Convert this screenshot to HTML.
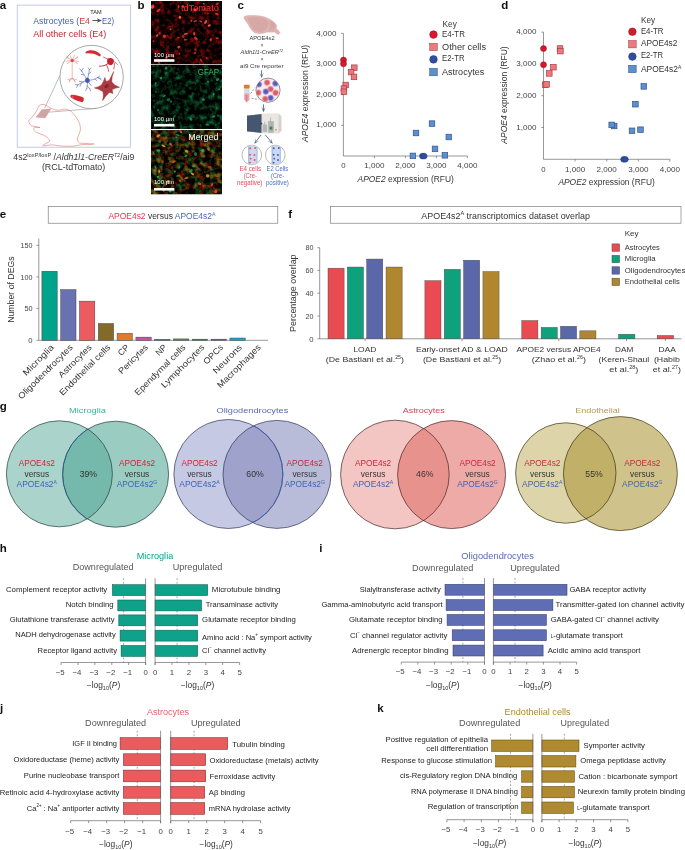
<!DOCTYPE html>
<html lang="en"><head><meta charset="utf-8"><title>Figure</title>
<style>
html,body{margin:0;padding:0;background:#fff;}
body{width:685px;height:850px;overflow:hidden;}
svg{display:block;font-family:"Liberation Sans",sans-serif;will-change:transform;transform:translateZ(0);-webkit-font-smoothing:antialiased;}
</style></head><body>
<svg width="685" height="850" viewBox="0 0 685 850">
<rect width="685" height="850" fill="#ffffff"/>
<defs>
<filter id="b1" x="-5%" y="-5%" width="110%" height="110%"><feGaussianBlur stdDeviation="0.9"/></filter>
<filter id="b2" x="-5%" y="-5%" width="110%" height="110%"><feGaussianBlur stdDeviation="1.6"/></filter>
<filter id="b05"><feGaussianBlur stdDeviation="0.5"/></filter>
<clipPath id="cpb1"><rect x="151" y="1" width="71" height="63.3"/></clipPath>
<clipPath id="cpb2"><rect x="151" y="65" width="71" height="64"/></clipPath>
<clipPath id="cpb3"><rect x="151" y="130.2" width="71" height="64"/></clipPath>
<clipPath id="cpc1"><circle cx="268.0" cy="90.2" r="11.8"/></clipPath>
<clipPath id="cpc2"><circle cx="251.8" cy="155" r="9.6"/></clipPath>
<clipPath id="cpc3"><circle cx="275.3" cy="155" r="9.6"/></clipPath>
</defs>
<text x="-0.30" y="8.80" font-size="11.5" fill="#111" font-weight="bold">a</text>
<text x="137.60" y="8.80" font-size="11.5" fill="#111" font-weight="bold">b</text>
<text x="237.60" y="8.80" font-size="11.5" fill="#111" font-weight="bold">c</text>
<text x="501.20" y="8.80" font-size="11.5" fill="#111" font-weight="bold">d</text>
<text x="-0.30" y="217.90" font-size="11.5" fill="#111" font-weight="bold">e</text>
<text x="288.20" y="217.90" font-size="11.5" fill="#111" font-weight="bold">f</text>
<text x="-0.30" y="410.00" font-size="11.5" fill="#111" font-weight="bold">g</text>
<text x="-0.30" y="552.30" font-size="11.5" fill="#111" font-weight="bold">h</text>
<text x="319.30" y="552.30" font-size="11.5" fill="#111" font-weight="bold">i</text>
<text x="0.00" y="711.60" font-size="11.5" fill="#111" font-weight="bold">j</text>
<text x="377.20" y="712.40" font-size="11.5" fill="#111" font-weight="bold">k</text>
<rect x="17.20" y="5.10" width="113.20" height="142.10" fill="none" stroke="#a9b3e3" stroke-width="0.7" />
<text x="90.20" y="13.90" font-size="5.6" fill="#222" textLength="11.40" lengthAdjust="spacingAndGlyphs">TAM</text>
<text x="33.30" y="23.60" font-size="9.0" fill="#2b2b2b" textLength="56.60" lengthAdjust="spacingAndGlyphs"><tspan fill="#3f62b5">Astrocytes (</tspan><tspan fill="#d23b33">E4</tspan></text>
<text x="102.00" y="23.60" font-size="9.0" fill="#3f62b5" textLength="12.10" lengthAdjust="spacingAndGlyphs">E2)</text>
<line x1="92.40" y1="20.50" x2="99.40" y2="20.50" stroke="#505050" stroke-width="0.95" />
<path d="M102.0 20.5 L96.8 18.2 L98.2 20.5 L96.8 22.8 Z" fill="#505050"/>
<text x="33.30" y="36.90" font-size="9.0" fill="#c0272d" textLength="73.00" lengthAdjust="spacingAndGlyphs">All other cells (E4)</text>
<path d="M41.3 104.5 C44 104 46.5 105.5 48.5 106.8 C50.5 108 52.5 109.3 54.4 109.5 C56.5 110.2 58 110.3 59.7 110.1 C62.5 109.2 65 108.8 67.6 109.5 C70.5 110.5 72.5 112.5 74.1 114.7 C76.5 117.5 78.2 120.2 79.4 123.2 C80.3 125.8 80.6 128 80.3 130.5 C79.8 133.5 78 136 77.4 138.4 C77.2 140.5 78 142.2 79.4 143 C82 143.6 84 143.3 86 143.4 C88.5 143.5 91 144.2 93.8 143.9 C90.5 144.7 88 144.4 85.6 144.4 C82.5 144.5 79.5 144.9 76.8 145.6 C73 146.4 69 146.3 64.9 146.2 C61 146.3 57 145.3 53.1 144.9 C49.5 144.8 46 146 42.6 145.6 C44.5 143.8 47.5 143.2 49.8 141 C49 139 47.5 137.6 45.9 136.4 C44 135.2 42 134.6 40 133.8 C37.8 133 35.3 132.2 34.1 130.5 C33.4 129.2 33.6 127.9 34.7 127.2 C36.5 127 38.3 127.9 40 127.6 C38 126.6 36 127 34 126.3 C32.5 126.2 31.5 125.8 30.8 125.2 C29.4 123.8 28.6 122.2 28.8 120.6 C29.4 119.2 30.8 118.3 32.1 117.3 C33.8 115.3 35.3 113 36.7 110.8 C37.6 108.5 38.4 106.3 40 104.9 C40.4 104.6 40.9 104.5 41.3 104.5 Z" fill="none" stroke="#e2766f" stroke-width="0.6" stroke-linejoin="round"/>
<path d="M36 117.3 L41.9 109.5 L51.1 108.8 L45.2 118 Z" fill="#cfa5a3" stroke="#c79a98" stroke-width="0.3"/>
<line x1="59.90" y1="75.50" x2="44.60" y2="108.10" stroke="#8d9494" stroke-width="0.6" />
<line x1="96.50" y1="108.40" x2="49.20" y2="112.10" stroke="#8d9494" stroke-width="0.6" />
<circle cx="91.60" cy="77.00" r="31.70" fill="#ffffff" stroke="#8d9494" stroke-width="0.8" />
<path d="M85.6 52 C89 49.2 96 49.5 100.6 54.5 C101 55.8 100.4 56.6 99.2 56.2 C95 53.6 90 53.2 86.4 53.4 C85.4 53.2 85.2 52.5 85.6 52 Z" fill="#d52b33"/>
<g stroke="#e0605c" stroke-width="0.45" fill="none" stroke-linecap="round"><path d="M72.2 61.5 L72.2 78.5 M72.2 78.5 L69 81 M72.2 78.5 L75.5 81.2 M72.2 78.5 L67.6 79.6 M72.2 78.5 L76.6 79.8 M70.3 80 L69.2 82 M74.2 80.2 L75 82.2"/><path d="M72.2 60.4 L67 57.5 M72.2 60.4 L77.6 57.6 M72.2 60.4 L66 61.2 M72.2 60.4 L78.6 61.4 M72.2 60.4 L70 55.5 M72.2 60.4 L74.5 55.4 M72.2 60.4 L67.2 63.6 M72.2 60.4 L77.2 63.4 M68.5 58.3 L66.6 56 M76 58.4 L78 56.2"/></g>
<circle cx="72.20" cy="60.40" r="1.50" fill="#d8413f" stroke="none" stroke-width="0.5" />
<path d="M107.8 58.6 C109.5 57.6 112.5 58 113.6 59.6 C114.4 61.5 113.4 64 111.6 65 C109.8 65.4 107.8 64.6 107.4 63 C107 61.4 107 59.6 107.8 58.6 Z" fill="#c8202c"/>
<g stroke="#c8202c" fill="none" stroke-linecap="round"><path d="M108 63.6 C105.5 65.6 102.5 66.2 99.4 66.2" stroke-width="0.9"/><path d="M106.5 65 C107.6 67 108.4 69 108.6 71.2" stroke-width="0.8"/><path d="M107.8 59.2 C106.4 58.4 105 57.8 103.6 57.2" stroke-width="0.7"/><path d="M113.4 61.6 C115 62.2 116.4 63 117.4 64.4 M114.4 63.5 C114.6 65.5 114.2 67.4 113.8 69" stroke-width="0.7"/></g>
<g stroke="#4c60b6" fill="none" stroke-linecap="round" stroke-width="0.6"><path d="M87.4 80.3 C85.5 77 83.6 74 81.6 71 M81.6 71 L79.8 68.8 M81.6 71 L83 68.4 M84 75 L81.2 74.4"/><path d="M87.4 80.3 C88.4 76.5 88.8 73 89.4 69.6 M89.4 69.6 L88.2 67.8 M89.4 69.6 L91.2 68.2 M88.6 74 L91 72"/><path d="M87.4 80.3 C91.5 80.4 95 79.4 97.6 77.6 M97.6 77.6 L100.8 78.4 M97.6 77.6 L99.8 75.8 M95 79 L96.8 80.6 M98.6 78 L101.4 80"/><path d="M87.4 80.3 C83.6 81.6 80.4 83.2 77.8 85 M77.8 85 L75.4 84.4 M77.8 85 L76.6 87.4 M81.6 82.8 L80 86.2 M83.6 82 L79.4 81.4"/><path d="M87.4 80.3 C87.6 83.6 87.4 86 86.8 88.6 M86.8 88.6 L85.6 90.6 M87.2 86 L89.6 88.4 M89.6 88.4 L90.6 91 M87.4 80.3 L91 85.6"/></g>
<path d="M85.6 78.4 L87.6 77.6 L89.6 79.2 L89.8 81.6 L88 83 L85.8 82.4 L84.8 80.4 Z" fill="#4357b2"/>
<path d="M113.7 71.5 Q111.4 77.5 111.8 82 Q114.5 85.9 119.5 87.3 Q114.6 88 112.2 89.6 Q112.6 91.6 112.9 93.6 Q110.6 92.6 109.2 92.6 Q105.6 96 102.6 100.7 Q103.8 95.5 103 91.8 Q99.5 88.8 94.4 87.9 Q99 86.9 101.4 84.9 Q103.7 81.5 104.9 77.4 Q105.4 80 106.4 81.4 Q108.4 80.8 109.3 80.2 Q111.4 76 113.7 71.5 Z" fill="#ab3b43" stroke="#ab3b43" stroke-width="0.5" stroke-linejoin="round"/>
<ellipse cx="106.6" cy="86.2" rx="2.4" ry="1.5" transform="rotate(-30 106.6 86.2)" fill="#8a1f2a"/>
<path d="M71 94.9 C75 94.6 80 96.2 83.6 97.8 C84.2 99.4 83.6 101.4 82.4 102.2 C78.6 101.6 74.4 100 71 97.6 C70.2 96.6 70.2 95.6 71 94.9 Z" fill="#d22a33"/>
<path d="M73.4 95.4 C72.4 96.4 72.4 97.6 73.2 98.6" stroke="#f0a8a6" stroke-width="0.5" fill="none"/>
<text x="13.30" y="159.50" font-size="8.8" fill="#333" textLength="121.00" lengthAdjust="spacingAndGlyphs">4s2<tspan font-size="5.8" dy="-3.0">loxP/loxP</tspan><tspan dy="3.0"> /</tspan><tspan font-style="italic">Aldh1l1-CreER</tspan><tspan font-style="italic" font-size="5.4" dy="-3.0">T2</tspan><tspan dy="3.0">/ai9</tspan></text>
<text x="41.90" y="170.20" font-size="8.8" fill="#333" textLength="63.40" lengthAdjust="spacingAndGlyphs">(RCL-tdTomato)</text>
<filter id="nR" x="0" y="0" width="1" height="1" color-interpolation-filters="sRGB">
<feTurbulence type="fractalNoise" baseFrequency="0.2" numOctaves="3" seed="4"/>
<feColorMatrix type="matrix" values="1.25 0 0 0 -0.52  0.12 0 0 0 -0.05  0.09 0 0 0 -0.037  0 0 0 0 1"/></filter>
<filter id="nG" x="0" y="0" width="1" height="1" color-interpolation-filters="sRGB">
<feTurbulence type="fractalNoise" baseFrequency="0.2" numOctaves="3" seed="9"/>
<feColorMatrix type="matrix" values="0 0.08 0 0 -0.03  0 0.95 0 0 -0.4  0 0.5 0 0 -0.215  0 0 0 0 1"/></filter>
<filter id="nM" x="0" y="0" width="1" height="1" color-interpolation-filters="sRGB">
<feTurbulence type="fractalNoise" baseFrequency="0.19" numOctaves="3" seed="15"/>
<feColorMatrix type="matrix" values="1.25 0 0 0 -0.5  0.45 0.75 0 0 -0.5  0 0.28 0 0 -0.11  0 0 0 0 1"/></filter>
<g clip-path="url(#cpb1)">
<rect x="151.00" y="1.00" width="71.00" height="63.30" fill="#000" stroke="none" stroke-width="0.5" />
<rect x="151" y="1" width="71" height="63.3" filter="url(#nR)"/>
<g filter="url(#b05)">
<ellipse cx="183.2" cy="36.3" rx="1.5" ry="1.5" fill="#f83a2a" opacity="0.64" transform="rotate(131 183.2 36.3)"/>
<ellipse cx="184.8" cy="39.6" rx="1.0" ry="1.0" fill="#ff4232" opacity="0.64" transform="rotate(177 184.8 39.6)"/>
<ellipse cx="195.8" cy="38.5" rx="2.3" ry="1.3" fill="#f83a2a" opacity="0.80" transform="rotate(40 195.8 38.5)"/>
<ellipse cx="195.0" cy="53.0" rx="1.0" ry="0.9" fill="#ff4232" opacity="0.70" transform="rotate(7 195.0 53.0)"/>
<ellipse cx="205.7" cy="22.0" rx="2.1" ry="1.2" fill="#ff5a44" opacity="0.86" transform="rotate(127 205.7 22.0)"/>
<ellipse cx="152.3" cy="7.2" rx="1.3" ry="1.6" fill="#ff5a44" opacity="1.00" transform="rotate(21 152.3 7.2)"/>
<ellipse cx="200.8" cy="21.3" rx="1.6" ry="0.7" fill="#ff4232" opacity="0.83" transform="rotate(27 200.8 21.3)"/>
<ellipse cx="179.6" cy="53.9" rx="1.0" ry="0.7" fill="#f83a2a" opacity="0.83" transform="rotate(54 179.6 53.9)"/>
<ellipse cx="166.5" cy="57.8" rx="1.4" ry="1.3" fill="#f83a2a" opacity="0.73" transform="rotate(144 166.5 57.8)"/>
<ellipse cx="195.4" cy="49.7" rx="1.4" ry="1.0" fill="#f83a2a" opacity="0.58" transform="rotate(104 195.4 49.7)"/>
<ellipse cx="204.3" cy="9.2" rx="1.9" ry="0.7" fill="#ff4232" opacity="0.79" transform="rotate(124 204.3 9.2)"/>
<ellipse cx="164.3" cy="36.3" rx="1.6" ry="1.6" fill="#f83a2a" opacity="0.86" transform="rotate(107 164.3 36.3)"/>
<ellipse cx="196.4" cy="9.1" rx="2.3" ry="0.7" fill="#f83a2a" opacity="0.90" transform="rotate(151 196.4 9.1)"/>
<ellipse cx="173.0" cy="56.2" rx="1.2" ry="1.6" fill="#ff4232" opacity="0.84" transform="rotate(147 173.0 56.2)"/>
<ellipse cx="158.9" cy="62.6" rx="1.5" ry="0.7" fill="#ff4232" opacity="0.84" transform="rotate(75 158.9 62.6)"/>
<ellipse cx="178.6" cy="6.6" rx="1.7" ry="0.9" fill="#ff4232" opacity="0.84" transform="rotate(95 178.6 6.6)"/>
<ellipse cx="194.9" cy="9.8" rx="1.6" ry="1.2" fill="#ff5a44" opacity="0.95" transform="rotate(46 194.9 9.8)"/>
<ellipse cx="195.3" cy="21.1" rx="2.0" ry="0.9" fill="#ff4232" opacity="0.68" transform="rotate(161 195.3 21.1)"/>
<ellipse cx="216.9" cy="14.1" rx="2.1" ry="1.2" fill="#f83a2a" opacity="0.73" transform="rotate(26 216.9 14.1)"/>
<ellipse cx="159.5" cy="33.4" rx="1.2" ry="1.3" fill="#f83a2a" opacity="0.67" transform="rotate(152 159.5 33.4)"/>
<ellipse cx="185.9" cy="33.9" rx="2.3" ry="0.8" fill="#ff5a44" opacity="0.79" transform="rotate(167 185.9 33.9)"/>
<ellipse cx="210.8" cy="39.7" rx="1.2" ry="1.5" fill="#f83a2a" opacity="0.85" transform="rotate(17 210.8 39.7)"/>
<ellipse cx="170.6" cy="29.3" rx="1.0" ry="1.0" fill="#ff4232" opacity="0.81" transform="rotate(33 170.6 29.3)"/>
<ellipse cx="158.4" cy="10.5" rx="2.3" ry="1.3" fill="#f83a2a" opacity="0.83" transform="rotate(149 158.4 10.5)"/>
<ellipse cx="217.3" cy="38.2" rx="1.6" ry="1.0" fill="#ff4232" opacity="0.72" transform="rotate(8 217.3 38.2)"/>
<ellipse cx="153.5" cy="41.0" rx="1.0" ry="1.0" fill="#f83a2a" opacity="0.62" transform="rotate(18 153.5 41.0)"/>
<ellipse cx="157.2" cy="35.5" rx="1.0" ry="1.5" fill="#ff5a44" opacity="0.89" transform="rotate(33 157.2 35.5)"/>
<ellipse cx="206.7" cy="58.1" rx="1.0" ry="1.1" fill="#f83a2a" opacity="0.60" transform="rotate(106 206.7 58.1)"/>
<ellipse cx="217.2" cy="3.9" rx="1.7" ry="1.3" fill="#f83a2a" opacity="0.72" transform="rotate(149 217.2 3.9)"/>
<ellipse cx="152.9" cy="6.4" rx="1.8" ry="1.6" fill="#ff4232" opacity="0.95" transform="rotate(84 152.9 6.4)"/>
<ellipse cx="178.8" cy="47.1" rx="1.5" ry="1.1" fill="#ff5a44" opacity="0.82" transform="rotate(132 178.8 47.1)"/>
<ellipse cx="203.8" cy="3.8" rx="1.0" ry="0.7" fill="#ff5a44" opacity="0.98" transform="rotate(28 203.8 3.8)"/>
<ellipse cx="186.3" cy="39.7" rx="1.3" ry="0.7" fill="#f83a2a" opacity="0.68" transform="rotate(173 186.3 39.7)"/>
<ellipse cx="194.2" cy="33.8" rx="1.8" ry="1.1" fill="#f83a2a" opacity="0.91" transform="rotate(83 194.2 33.8)"/>
<ellipse cx="179.9" cy="17.4" rx="1.5" ry="1.4" fill="#ff5a44" opacity="0.97" transform="rotate(54 179.9 17.4)"/>
<ellipse cx="178.5" cy="37.7" rx="1.2" ry="0.8" fill="#f83a2a" opacity="0.70" transform="rotate(10 178.5 37.7)"/>
<ellipse cx="201.1" cy="60.2" rx="2.1" ry="0.8" fill="#f83a2a" opacity="0.75" transform="rotate(54 201.1 60.2)"/>
<ellipse cx="209.3" cy="25.5" rx="1.6" ry="1.0" fill="#ff5a44" opacity="0.94" transform="rotate(159 209.3 25.5)"/>
<ellipse cx="183.2" cy="6.6" rx="1.3" ry="1.2" fill="#ff4232" opacity="0.87" transform="rotate(71 183.2 6.6)"/>
<ellipse cx="191.4" cy="20.9" rx="0.9" ry="0.8" fill="#ff5a44" opacity="0.78" transform="rotate(6 191.4 20.9)"/>
</g></g>
<g clip-path="url(#cpb2)">
<rect x="151.00" y="65.00" width="71.00" height="64.00" fill="#000" stroke="none" stroke-width="0.5" />
<rect x="151" y="65" width="71" height="64" filter="url(#nG)"/>
<g filter="url(#b05)">
<ellipse cx="215.8" cy="124.8" rx="0.9" ry="1.0" fill="#2adc80" opacity="0.53" transform="rotate(91 215.8 124.8)"/>
<ellipse cx="161.0" cy="77.9" rx="0.9" ry="1.3" fill="#20c46c" opacity="0.67" transform="rotate(27 161.0 77.9)"/>
<ellipse cx="157.9" cy="110.0" rx="0.9" ry="1.3" fill="#20c46c" opacity="0.54" transform="rotate(14 157.9 110.0)"/>
<ellipse cx="166.2" cy="68.2" rx="1.8" ry="1.3" fill="#20c46c" opacity="0.69" transform="rotate(92 166.2 68.2)"/>
<ellipse cx="191.0" cy="119.3" rx="1.3" ry="1.6" fill="#38ec90" opacity="0.50" transform="rotate(121 191.0 119.3)"/>
<ellipse cx="164.3" cy="96.0" rx="1.8" ry="0.8" fill="#20c46c" opacity="0.64" transform="rotate(136 164.3 96.0)"/>
<ellipse cx="174.3" cy="116.6" rx="1.7" ry="0.8" fill="#2adc80" opacity="0.54" transform="rotate(145 174.3 116.6)"/>
<ellipse cx="171.0" cy="101.5" rx="1.4" ry="1.0" fill="#38ec90" opacity="0.43" transform="rotate(78 171.0 101.5)"/>
<ellipse cx="213.7" cy="94.2" rx="1.3" ry="0.8" fill="#2adc80" opacity="0.64" transform="rotate(126 213.7 94.2)"/>
<ellipse cx="168.4" cy="99.8" rx="1.7" ry="1.6" fill="#38ec90" opacity="0.40" transform="rotate(8 168.4 99.8)"/>
<ellipse cx="155.9" cy="91.8" rx="1.1" ry="0.9" fill="#2adc80" opacity="0.42" transform="rotate(56 155.9 91.8)"/>
<ellipse cx="207.5" cy="124.8" rx="2.2" ry="1.1" fill="#38ec90" opacity="0.38" transform="rotate(4 207.5 124.8)"/>
<ellipse cx="219.2" cy="89.4" rx="1.0" ry="0.9" fill="#2adc80" opacity="0.57" transform="rotate(117 219.2 89.4)"/>
<ellipse cx="217.6" cy="79.4" rx="1.7" ry="1.3" fill="#2adc80" opacity="0.61" transform="rotate(142 217.6 79.4)"/>
<ellipse cx="208.1" cy="81.7" rx="1.1" ry="0.7" fill="#20c46c" opacity="0.63" transform="rotate(168 208.1 81.7)"/>
<ellipse cx="213.6" cy="116.5" rx="1.9" ry="1.1" fill="#38ec90" opacity="0.53" transform="rotate(163 213.6 116.5)"/>
<ellipse cx="203.5" cy="99.8" rx="1.5" ry="1.4" fill="#20c46c" opacity="0.58" transform="rotate(140 203.5 99.8)"/>
<ellipse cx="155.6" cy="83.7" rx="1.8" ry="1.0" fill="#2adc80" opacity="0.58" transform="rotate(110 155.6 83.7)"/>
<ellipse cx="169.1" cy="125.0" rx="1.4" ry="1.3" fill="#2adc80" opacity="0.45" transform="rotate(143 169.1 125.0)"/>
<ellipse cx="218.1" cy="115.6" rx="1.3" ry="1.0" fill="#38ec90" opacity="0.37" transform="rotate(36 218.1 115.6)"/>
</g></g>
<g clip-path="url(#cpb3)">
<rect x="151.00" y="130.20" width="71.00" height="64.00" fill="#000" stroke="none" stroke-width="0.5" />
<rect x="151" y="130.2" width="71" height="64" filter="url(#nM)"/>
<g filter="url(#b05)">
<ellipse cx="199.1" cy="136.9" rx="1.8" ry="1.4" fill="#20c468" opacity="0.64" transform="rotate(9 199.1 136.9)"/>
<ellipse cx="195.5" cy="154.1" rx="2.0" ry="1.6" fill="#20c468" opacity="0.59" transform="rotate(72 195.5 154.1)"/>
<ellipse cx="215.8" cy="191.5" rx="1.5" ry="1.6" fill="#ff5028" opacity="0.89" transform="rotate(12 215.8 191.5)"/>
<ellipse cx="158.3" cy="135.9" rx="2.2" ry="1.3" fill="#ffb030" opacity="0.70" transform="rotate(150 158.3 135.9)"/>
<ellipse cx="190.8" cy="170.8" rx="2.3" ry="1.4" fill="#20c468" opacity="0.64" transform="rotate(129 190.8 170.8)"/>
<ellipse cx="180.8" cy="131.7" rx="1.6" ry="1.0" fill="#ff8038" opacity="0.79" transform="rotate(57 180.8 131.7)"/>
<ellipse cx="153.6" cy="153.0" rx="2.0" ry="0.7" fill="#28d070" opacity="0.48" transform="rotate(55 153.6 153.0)"/>
<ellipse cx="202.8" cy="150.5" rx="1.6" ry="1.5" fill="#28d070" opacity="0.68" transform="rotate(72 202.8 150.5)"/>
<ellipse cx="170.8" cy="143.8" rx="1.2" ry="1.3" fill="#28d070" opacity="0.50" transform="rotate(114 170.8 143.8)"/>
<ellipse cx="159.2" cy="171.4" rx="1.8" ry="0.8" fill="#ffb030" opacity="0.77" transform="rotate(87 159.2 171.4)"/>
<ellipse cx="176.2" cy="137.3" rx="1.0" ry="0.8" fill="#28d070" opacity="0.64" transform="rotate(62 176.2 137.3)"/>
<ellipse cx="208.4" cy="149.1" rx="1.7" ry="1.2" fill="#ff6a30" opacity="0.68" transform="rotate(54 208.4 149.1)"/>
<ellipse cx="159.7" cy="141.5" rx="1.6" ry="1.5" fill="#20c468" opacity="0.45" transform="rotate(70 159.7 141.5)"/>
<ellipse cx="156.7" cy="183.1" rx="2.0" ry="1.1" fill="#28d070" opacity="0.58" transform="rotate(49 156.7 183.1)"/>
<ellipse cx="158.3" cy="150.5" rx="2.1" ry="1.3" fill="#28d070" opacity="0.77" transform="rotate(179 158.3 150.5)"/>
<ellipse cx="186.3" cy="178.0" rx="2.2" ry="0.7" fill="#ffb030" opacity="0.85" transform="rotate(172 186.3 178.0)"/>
<ellipse cx="207.7" cy="175.8" rx="1.8" ry="1.6" fill="#ffb030" opacity="0.75" transform="rotate(7 207.7 175.8)"/>
<ellipse cx="170.0" cy="191.1" rx="1.4" ry="1.4" fill="#28d070" opacity="0.68" transform="rotate(52 170.0 191.1)"/>
<ellipse cx="212.0" cy="184.5" rx="2.1" ry="1.1" fill="#ff6a30" opacity="0.60" transform="rotate(114 212.0 184.5)"/>
<ellipse cx="193.6" cy="166.0" rx="1.8" ry="1.2" fill="#28d070" opacity="0.51" transform="rotate(166 193.6 166.0)"/>
<ellipse cx="174.0" cy="161.7" rx="1.9" ry="1.0" fill="#ff6a30" opacity="0.74" transform="rotate(147 174.0 161.7)"/>
<ellipse cx="158.0" cy="177.0" rx="1.1" ry="1.0" fill="#28d070" opacity="0.78" transform="rotate(50 158.0 177.0)"/>
<ellipse cx="163.4" cy="145.7" rx="2.1" ry="0.9" fill="#ffb030" opacity="0.84" transform="rotate(27 163.4 145.7)"/>
<ellipse cx="170.9" cy="144.8" rx="2.2" ry="1.0" fill="#ff6a30" opacity="0.57" transform="rotate(40 170.9 144.8)"/>
<ellipse cx="174.8" cy="171.5" rx="1.0" ry="1.2" fill="#20c468" opacity="0.74" transform="rotate(58 174.8 171.5)"/>
<ellipse cx="179.2" cy="167.5" rx="1.0" ry="1.4" fill="#20c468" opacity="0.69" transform="rotate(42 179.2 167.5)"/>
<ellipse cx="209.5" cy="167.2" rx="2.0" ry="1.4" fill="#ff5028" opacity="0.61" transform="rotate(16 209.5 167.2)"/>
<ellipse cx="162.5" cy="161.9" rx="1.4" ry="1.4" fill="#ff5028" opacity="0.58" transform="rotate(39 162.5 161.9)"/>
<ellipse cx="192.4" cy="173.9" rx="1.9" ry="1.0" fill="#ffb030" opacity="0.81" transform="rotate(34 192.4 173.9)"/>
<ellipse cx="214.2" cy="188.4" rx="1.6" ry="0.7" fill="#20c468" opacity="0.46" transform="rotate(35 214.2 188.4)"/>
<ellipse cx="155.2" cy="170.4" rx="1.3" ry="1.5" fill="#20c468" opacity="0.61" transform="rotate(62 155.2 170.4)"/>
<ellipse cx="167.8" cy="181.5" rx="2.0" ry="1.1" fill="#ffb030" opacity="0.84" transform="rotate(152 167.8 181.5)"/>
<ellipse cx="185.9" cy="155.9" rx="1.7" ry="0.8" fill="#20c468" opacity="0.69" transform="rotate(157 185.9 155.9)"/>
<ellipse cx="186.7" cy="151.4" rx="1.8" ry="1.2" fill="#ffb030" opacity="0.73" transform="rotate(17 186.7 151.4)"/>
<ellipse cx="163.6" cy="190.3" rx="1.5" ry="1.0" fill="#ff8038" opacity="0.71" transform="rotate(63 163.6 190.3)"/>
<ellipse cx="199.5" cy="183.8" rx="2.2" ry="1.3" fill="#ff8038" opacity="0.59" transform="rotate(24 199.5 183.8)"/>
<ellipse cx="177.9" cy="175.9" rx="2.1" ry="0.8" fill="#28d070" opacity="0.58" transform="rotate(167 177.9 175.9)"/>
<ellipse cx="155.5" cy="167.2" rx="2.1" ry="0.7" fill="#28d070" opacity="0.64" transform="rotate(65 155.5 167.2)"/>
<ellipse cx="177.9" cy="135.0" rx="1.8" ry="0.8" fill="#20c468" opacity="0.69" transform="rotate(21 177.9 135.0)"/>
<ellipse cx="180.0" cy="181.0" rx="1.2" ry="1.1" fill="#ff5028" opacity="0.67" transform="rotate(134 180.0 181.0)"/>
</g></g>
<text x="181.00" y="10.60" font-size="8.8" fill="#ee3a2e" textLength="37.80" lengthAdjust="spacingAndGlyphs">tdTomato</text>
<text x="197.80" y="74.60" font-size="8.8" fill="#35bd6c" textLength="21.20" lengthAdjust="spacingAndGlyphs">GFAP</text>
<text x="188.30" y="139.60" font-size="8.8" fill="#ffffff" textLength="30.00" lengthAdjust="spacingAndGlyphs">Merged</text>
<text x="154.00" y="57.00" font-size="5.6" fill="#ffffff" textLength="20.20" lengthAdjust="spacingAndGlyphs">100 µm</text>
<rect x="154.00" y="59.20" width="20.40" height="2.60" fill="#ffffff" stroke="none" stroke-width="0.5" />
<text x="154.00" y="120.60" font-size="5.6" fill="#ffffff" textLength="20.20" lengthAdjust="spacingAndGlyphs">100 µm</text>
<rect x="154.00" y="123.90" width="20.40" height="2.60" fill="#ffffff" stroke="none" stroke-width="0.5" />
<text x="154.00" y="184.40" font-size="5.6" fill="#ffffff" textLength="20.20" lengthAdjust="spacingAndGlyphs">100 µm</text>
<rect x="154.00" y="188.00" width="20.40" height="2.60" fill="#ffffff" stroke="none" stroke-width="0.5" />
<path d="M243.8 17.3 C244.2 16.4 245.5 15.9 246.8 15.7 C248.8 15.4 250.6 15.4 252.6 15.5 C255.8 15.5 259 15.6 262.1 16.2 C264.5 16.8 266.8 17.6 268.7 18.8 C270.6 19.6 272.4 20.6 273.8 22 C275.2 23 276.2 24.2 276.7 25.7 C277 26.6 276.6 27.5 276 28.2 C277.6 29.6 279 31 280 32.6 C279.8 33.4 279.2 34.1 278.5 34.5 C277 33.8 275.6 32.9 274.5 31.9 C272 32.3 269.6 32.1 267.2 31.9 C265.6 32.6 263.9 33.1 262.1 33.4 C259.9 33.7 257.6 33.6 255.5 33 C254.1 32.4 252.9 31.5 251.9 30.4 C250.4 28.6 249.2 26.6 248.2 24.6 C247 22.8 245.7 21.2 244.6 19.5 C244.1 18.8 243.8 18 243.8 17.3 Z" fill="#deb5b2" stroke="#d3a5a2" stroke-width="0.4"/>
<path d="M247.6 18.6 C251 16.8 257 16.6 262 17.8 C265.6 18.8 268 20.6 268.6 23 C268.8 25.6 267.4 28.4 265 30.4 C262 32.2 258 32.4 255.2 31 C252 28.6 249.4 24.4 247.6 18.6 Z" fill="#d6a9a6"/>
<path d="M269.2 21 C271.6 20.8 274 22.4 275.2 24.6 C276 26.4 275.4 28.2 274.2 29.4 C272.6 30.4 270.4 30.6 268.6 30 C269.6 28 270.2 25.6 269.8 23 Z" fill="#d5a8a5"/>
<text x="262.00" y="39.50" font-size="5.7" fill="#3a3a3a" text-anchor="middle" textLength="25.20" lengthAdjust="spacingAndGlyphs">APOE4s2</text>
<text x="262.00" y="46.80" font-size="4.6" fill="#3a3a3a" text-anchor="middle">×</text>
<text x="261.80" y="53.60" font-size="5.7" fill="#3a3a3a" text-anchor="middle" textLength="42.40" lengthAdjust="spacingAndGlyphs" font-style="italic">Aldh1l1-CreER<tspan font-size="3.4" dy="-1.8">T2</tspan></text>
<text x="262.00" y="60.80" font-size="4.6" fill="#3a3a3a" text-anchor="middle">×</text>
<text x="261.80" y="68.10" font-size="5.7" fill="#3a3a3a" text-anchor="middle" textLength="43.40" lengthAdjust="spacingAndGlyphs">ai9 Cre reporter</text>
<line x1="261.60" y1="70.20" x2="261.60" y2="76.20" stroke="#47608a" stroke-width="0.85" />
<path d="M261.60 77.94 L259.36 72.47 L261.60 75.90 L263.84 72.47 Z" fill="#47608a"/>
<radialGradient id="rgR"><stop offset="0" stop-color="#d9505e"/><stop offset="0.6" stop-color="#de6a76"/><stop offset="1" stop-color="#eaa4aa" stop-opacity="0.55"/></radialGradient>
<radialGradient id="rgB"><stop offset="0" stop-color="#4c52b8"/><stop offset="0.6" stop-color="#6268c6"/><stop offset="1" stop-color="#a4a8e0" stop-opacity="0.55"/></radialGradient>
<circle cx="268.00" cy="90.20" r="12.10" fill="#fbecec" stroke="#3c3c3c" stroke-width="0.55" />
<g clip-path="url(#cpc1)">
<circle cx="267.10" cy="82.60" r="3.40" fill="url(#rgR)" stroke="none" stroke-width="0.5" />
<circle cx="275.40" cy="83.40" r="3.40" fill="url(#rgB)" stroke="none" stroke-width="0.5" />
<circle cx="258.90" cy="84.30" r="3.40" fill="url(#rgB)" stroke="none" stroke-width="0.5" />
<circle cx="270.60" cy="89.10" r="3.40" fill="url(#rgR)" stroke="none" stroke-width="0.5" />
<circle cx="265.80" cy="91.60" r="3.40" fill="url(#rgB)" stroke="none" stroke-width="0.5" />
<circle cx="258.30" cy="92.60" r="3.40" fill="url(#rgR)" stroke="none" stroke-width="0.5" />
<circle cx="275.60" cy="92.80" r="3.40" fill="url(#rgR)" stroke="none" stroke-width="0.5" />
<circle cx="270.60" cy="97.90" r="3.40" fill="url(#rgB)" stroke="none" stroke-width="0.5" />
<circle cx="265.30" cy="98.90" r="3.40" fill="url(#rgR)" stroke="none" stroke-width="0.5" />
</g>
<path d="M244.4 88.4 L249.2 88.4 L249.2 99.6 L246.8 102.6 L244.4 99.6 Z" fill="#d6dce2" stroke="#b9c0c8" stroke-width="0.3"/>
<path d="M244.4 93.5 L249.2 93.5 L249.2 99.6 L246.8 102.6 L244.4 99.6 Z" fill="#e8a3ab"/>
<path d="M245.6 95 L247.4 95 L247.4 100 L246.5 101.4 L245.6 100 Z" fill="#de7f8a"/>
<rect x="243.90" y="84.80" width="5.70" height="3.70" fill="#e07a2c" stroke="none" stroke-width="0.5" rx="0.7"/>
<line x1="250.60" y1="93.60" x2="255.20" y2="87.60" stroke="#3c3c3c" stroke-width="0.55" stroke-dasharray="1.9 1.5"/>
<line x1="251.60" y1="98.20" x2="258.60" y2="99.60" stroke="#3c3c3c" stroke-width="0.55" stroke-dasharray="1.9 1.5"/>
<line x1="263.50" y1="104.40" x2="263.50" y2="110.40" stroke="#47608a" stroke-width="0.85" />
<path d="M263.50 112.14 L261.26 106.67 L263.50 110.10 L265.74 106.67 Z" fill="#47608a"/>
<path d="M247 115.6 L261.8 114 L261.8 133 L247 131.4 Z" fill="#475670"/>
<path d="M261.8 114 L278.6 113.8 L281.2 116.4 L281.2 131 L278.6 133.2 L261.8 133 Z" fill="#e9e7e0" stroke="#c8c6be" stroke-width="0.3"/>
<path d="M278.6 113.8 L281.2 116.4 L281.2 131 L278.6 133.2 Z" fill="#d3d1c9"/>
<rect x="262.60" y="124.40" width="4.60" height="7.60" fill="#b4b6b8" stroke="none" stroke-width="0.5" />
<rect x="268.60" y="121.60" width="4.80" height="10.60" fill="#a9b8b0" stroke="#7d8a84" stroke-width="0.3" />
<rect x="269.60" y="126.60" width="2.80" height="3.00" fill="#5e6d68" stroke="none" stroke-width="0.5" />
<line x1="270.60" y1="117.60" x2="270.60" y2="121.60" stroke="#888" stroke-width="0.5" />
<line x1="264.60" y1="121.60" x2="264.60" y2="124.40" stroke="#888" stroke-width="0.5" />
<rect x="275.40" y="129.20" width="1.20" height="1.20" fill="#e0483c" stroke="none" stroke-width="0.5" />
<circle cx="261.40" cy="123.60" r="0.90" fill="#2d3a50" stroke="none" stroke-width="0.5" />
<line x1="261.00" y1="135.00" x2="255.40" y2="142.40" stroke="#47608a" stroke-width="0.85" />
<path d="M254.35 143.79 L255.86 138.07 L255.58 142.16 L259.44 140.78 Z" fill="#47608a"/>
<line x1="265.40" y1="135.00" x2="271.60" y2="142.40" stroke="#47608a" stroke-width="0.85" />
<path d="M272.72 143.73 L267.49 140.98 L271.41 142.17 L270.93 138.10 Z" fill="#47608a"/>
<circle cx="251.80" cy="155.00" r="9.80" fill="#ffffff" stroke="#666" stroke-width="0.45" />
<g clip-path="url(#cpc2)">
<rect x="248.10" y="144.00" width="9.40" height="22.00" fill="#ccd9ef" stroke="none" stroke-width="0.5" />
<rect x="248.10" y="144.00" width="1.30" height="22.00" fill="#a9bde3" stroke="none" stroke-width="0.5" />
<rect x="256.20" y="144.00" width="1.30" height="22.00" fill="#b4c6e8" stroke="none" stroke-width="0.5" />
<circle cx="250.20" cy="148.20" r="0.95" fill="#e5525c" stroke="none" stroke-width="0.5" />
<circle cx="255.20" cy="148.00" r="0.95" fill="#e5525c" stroke="none" stroke-width="0.5" />
<circle cx="250.00" cy="154.80" r="0.95" fill="#e5525c" stroke="none" stroke-width="0.5" />
<circle cx="254.40" cy="155.00" r="0.95" fill="#e5525c" stroke="none" stroke-width="0.5" />
<circle cx="250.60" cy="158.60" r="0.95" fill="#e5525c" stroke="none" stroke-width="0.5" />
<circle cx="254.60" cy="160.00" r="0.95" fill="#e5525c" stroke="none" stroke-width="0.5" />
<circle cx="250.00" cy="162.60" r="0.95" fill="#e5525c" stroke="none" stroke-width="0.5" />
</g>
<circle cx="275.30" cy="155.00" r="9.80" fill="#ffffff" stroke="#666" stroke-width="0.45" />
<g clip-path="url(#cpc3)">
<rect x="271.60" y="144.00" width="9.40" height="22.00" fill="#ccd9ef" stroke="none" stroke-width="0.5" />
<rect x="271.60" y="144.00" width="1.30" height="22.00" fill="#a9bde3" stroke="none" stroke-width="0.5" />
<rect x="279.70" y="144.00" width="1.30" height="22.00" fill="#b4c6e8" stroke="none" stroke-width="0.5" />
<circle cx="273.80" cy="148.20" r="0.95" fill="#3f55c0" stroke="none" stroke-width="0.5" />
<circle cx="278.80" cy="148.00" r="0.95" fill="#3f55c0" stroke="none" stroke-width="0.5" />
<circle cx="273.60" cy="154.80" r="0.95" fill="#3f55c0" stroke="none" stroke-width="0.5" />
<circle cx="278.00" cy="155.00" r="0.95" fill="#3f55c0" stroke="none" stroke-width="0.5" />
<circle cx="274.20" cy="158.60" r="0.95" fill="#3f55c0" stroke="none" stroke-width="0.5" />
<circle cx="278.00" cy="160.00" r="0.95" fill="#3f55c0" stroke="none" stroke-width="0.5" />
<circle cx="273.60" cy="162.60" r="0.95" fill="#3f55c0" stroke="none" stroke-width="0.5" />
</g>
<text x="250.30" y="171.30" font-size="6.6" fill="#e8495a" text-anchor="middle" textLength="21.80" lengthAdjust="spacingAndGlyphs">E4 cells</text>
<text x="250.30" y="178.30" font-size="6.6" fill="#e8495a" text-anchor="middle" textLength="13.20" lengthAdjust="spacingAndGlyphs">(Cre-</text>
<text x="249.70" y="185.40" font-size="6.6" fill="#e8495a" text-anchor="middle" textLength="25.40" lengthAdjust="spacingAndGlyphs">negative)</text>
<text x="277.40" y="171.30" font-size="6.6" fill="#4f6fc2" text-anchor="middle" textLength="21.80" lengthAdjust="spacingAndGlyphs">E2 Cells</text>
<text x="277.60" y="178.30" font-size="6.6" fill="#4f6fc2" text-anchor="middle" textLength="13.20" lengthAdjust="spacingAndGlyphs">(Cre-</text>
<text x="277.40" y="185.40" font-size="6.6" fill="#4f6fc2" text-anchor="middle" textLength="23.00" lengthAdjust="spacingAndGlyphs">positive)</text>
<line x1="343.40" y1="33.40" x2="343.40" y2="156.00" stroke="#6b6b6b" stroke-width="0.7" />
<line x1="343.40" y1="156.00" x2="467.40" y2="156.00" stroke="#6b6b6b" stroke-width="0.7" />
<line x1="341.20" y1="125.35" x2="343.40" y2="125.35" stroke="#6b6b6b" stroke-width="0.7" />
<text x="336.40" y="127.45" font-size="7.8" fill="#444" text-anchor="end" textLength="20.20" lengthAdjust="spacingAndGlyphs">1,000</text>
<line x1="374.40" y1="156.00" x2="374.40" y2="158.20" stroke="#6b6b6b" stroke-width="0.7" />
<text x="374.40" y="168.10" font-size="7.8" fill="#444" text-anchor="middle" textLength="20.20" lengthAdjust="spacingAndGlyphs">1,000</text>
<line x1="341.20" y1="94.70" x2="343.40" y2="94.70" stroke="#6b6b6b" stroke-width="0.7" />
<text x="336.40" y="96.80" font-size="7.8" fill="#444" text-anchor="end" textLength="20.20" lengthAdjust="spacingAndGlyphs">2,000</text>
<line x1="405.40" y1="156.00" x2="405.40" y2="158.20" stroke="#6b6b6b" stroke-width="0.7" />
<text x="405.40" y="168.10" font-size="7.8" fill="#444" text-anchor="middle" textLength="20.20" lengthAdjust="spacingAndGlyphs">2,000</text>
<line x1="341.20" y1="64.05" x2="343.40" y2="64.05" stroke="#6b6b6b" stroke-width="0.7" />
<text x="336.40" y="66.15" font-size="7.8" fill="#444" text-anchor="end" textLength="20.20" lengthAdjust="spacingAndGlyphs">3,000</text>
<line x1="436.40" y1="156.00" x2="436.40" y2="158.20" stroke="#6b6b6b" stroke-width="0.7" />
<text x="436.40" y="168.10" font-size="7.8" fill="#444" text-anchor="middle" textLength="20.20" lengthAdjust="spacingAndGlyphs">3,000</text>
<line x1="341.20" y1="33.40" x2="343.40" y2="33.40" stroke="#6b6b6b" stroke-width="0.7" />
<text x="336.40" y="35.50" font-size="7.8" fill="#444" text-anchor="end" textLength="20.20" lengthAdjust="spacingAndGlyphs">4,000</text>
<line x1="467.40" y1="156.00" x2="467.40" y2="158.20" stroke="#6b6b6b" stroke-width="0.7" />
<text x="467.40" y="168.10" font-size="7.8" fill="#444" text-anchor="middle" textLength="20.20" lengthAdjust="spacingAndGlyphs">4,000</text>
<text x="343.40" y="168.10" font-size="7.8" fill="#444" text-anchor="middle">0</text>
<text x="357.60" y="181.90" font-size="8.3" fill="#333" textLength="96.20" lengthAdjust="spacingAndGlyphs"><tspan font-style="italic">APOE2</tspan> expression (RFU)</text>
<text x="307.60" y="93.40" font-size="8.3" fill="#333" text-anchor="middle" textLength="97.20" lengthAdjust="spacingAndGlyphs" transform="rotate(-90 307.60 93.40)"><tspan font-style="italic">APOE4</tspan> expression (RFU)</text>
<line x1="543.50" y1="32.10" x2="543.50" y2="159.30" stroke="#6b6b6b" stroke-width="0.7" />
<line x1="543.50" y1="159.30" x2="669.90" y2="159.30" stroke="#6b6b6b" stroke-width="0.7" />
<line x1="541.30" y1="127.50" x2="543.50" y2="127.50" stroke="#6b6b6b" stroke-width="0.7" />
<text x="536.50" y="129.60" font-size="7.8" fill="#444" text-anchor="end" textLength="20.20" lengthAdjust="spacingAndGlyphs">1,000</text>
<line x1="575.10" y1="159.30" x2="575.10" y2="161.50" stroke="#6b6b6b" stroke-width="0.7" />
<text x="575.10" y="171.70" font-size="7.8" fill="#444" text-anchor="middle" textLength="20.20" lengthAdjust="spacingAndGlyphs">1,000</text>
<line x1="541.30" y1="95.70" x2="543.50" y2="95.70" stroke="#6b6b6b" stroke-width="0.7" />
<text x="536.50" y="97.80" font-size="7.8" fill="#444" text-anchor="end" textLength="20.20" lengthAdjust="spacingAndGlyphs">2,000</text>
<line x1="606.70" y1="159.30" x2="606.70" y2="161.50" stroke="#6b6b6b" stroke-width="0.7" />
<text x="606.70" y="171.70" font-size="7.8" fill="#444" text-anchor="middle" textLength="20.20" lengthAdjust="spacingAndGlyphs">2,000</text>
<line x1="541.30" y1="63.90" x2="543.50" y2="63.90" stroke="#6b6b6b" stroke-width="0.7" />
<text x="536.50" y="66.00" font-size="7.8" fill="#444" text-anchor="end" textLength="20.20" lengthAdjust="spacingAndGlyphs">3,000</text>
<line x1="638.30" y1="159.30" x2="638.30" y2="161.50" stroke="#6b6b6b" stroke-width="0.7" />
<text x="638.30" y="171.70" font-size="7.8" fill="#444" text-anchor="middle" textLength="20.20" lengthAdjust="spacingAndGlyphs">3,000</text>
<line x1="541.30" y1="32.10" x2="543.50" y2="32.10" stroke="#6b6b6b" stroke-width="0.7" />
<text x="536.50" y="34.20" font-size="7.8" fill="#444" text-anchor="end" textLength="20.20" lengthAdjust="spacingAndGlyphs">4,000</text>
<line x1="669.90" y1="159.30" x2="669.90" y2="161.50" stroke="#6b6b6b" stroke-width="0.7" />
<text x="669.90" y="171.70" font-size="7.8" fill="#444" text-anchor="middle" textLength="20.20" lengthAdjust="spacingAndGlyphs">4,000</text>
<text x="543.50" y="171.70" font-size="7.8" fill="#444" text-anchor="middle">0</text>
<text x="558.40" y="184.80" font-size="8.3" fill="#333" textLength="96.40" lengthAdjust="spacingAndGlyphs"><tspan font-style="italic">APOE2</tspan> expression (RFU)</text>
<text x="507.40" y="95.00" font-size="8.3" fill="#333" text-anchor="middle" textLength="97.40" lengthAdjust="spacingAndGlyphs" transform="rotate(-90 507.40 95.00)"><tspan font-style="italic">APOE4</tspan> expression (RFU)</text>
<rect x="351.50" y="64.90" width="5.60" height="5.60" fill="#ea7a7e" stroke="#a23842" stroke-width="0.65" />
<rect x="348.30" y="69.30" width="5.60" height="5.60" fill="#ea7a7e" stroke="#a23842" stroke-width="0.65" />
<rect x="351.20" y="74.10" width="5.60" height="5.60" fill="#ea7a7e" stroke="#a23842" stroke-width="0.65" />
<rect x="342.90" y="82.20" width="5.60" height="5.60" fill="#ea7a7e" stroke="#a23842" stroke-width="0.65" />
<rect x="341.10" y="85.80" width="5.60" height="5.60" fill="#ea7a7e" stroke="#a23842" stroke-width="0.65" />
<rect x="341.10" y="89.00" width="5.60" height="5.60" fill="#ea7a7e" stroke="#a23842" stroke-width="0.65" />
<circle cx="343.50" cy="60.10" r="3.00" fill="#d7192e" stroke="#8a0f1e" stroke-width="0.5" />
<circle cx="343.50" cy="63.80" r="3.00" fill="#d7192e" stroke="#8a0f1e" stroke-width="0.5" />
<rect x="429.20" y="120.80" width="5.60" height="5.60" fill="#5b8fd0" stroke="#2f4f86" stroke-width="0.65" />
<rect x="413.20" y="130.20" width="5.60" height="5.60" fill="#5b8fd0" stroke="#2f4f86" stroke-width="0.65" />
<rect x="446.00" y="134.20" width="5.60" height="5.60" fill="#5b8fd0" stroke="#2f4f86" stroke-width="0.65" />
<rect x="432.20" y="146.10" width="5.60" height="5.60" fill="#5b8fd0" stroke="#2f4f86" stroke-width="0.65" />
<rect x="410.10" y="153.10" width="5.60" height="5.60" fill="#5b8fd0" stroke="#2f4f86" stroke-width="0.65" />
<rect x="442.10" y="152.50" width="5.60" height="5.60" fill="#5b8fd0" stroke="#2f4f86" stroke-width="0.65" />
<circle cx="422.40" cy="156.10" r="2.90" fill="#2d4f9e" stroke="#1f3877" stroke-width="0.5" />
<circle cx="424.20" cy="156.10" r="2.90" fill="#2d4f9e" stroke="#1f3877" stroke-width="0.5" />
<rect x="557.20" y="45.70" width="5.60" height="5.60" fill="#ea7a7e" stroke="#a23842" stroke-width="0.65" />
<rect x="557.60" y="48.30" width="5.60" height="5.60" fill="#ea7a7e" stroke="#a23842" stroke-width="0.65" />
<rect x="550.60" y="64.40" width="5.60" height="5.60" fill="#ea7a7e" stroke="#a23842" stroke-width="0.65" />
<rect x="546.50" y="70.60" width="5.60" height="5.60" fill="#ea7a7e" stroke="#a23842" stroke-width="0.65" />
<rect x="542.40" y="82.00" width="5.60" height="5.60" fill="#ea7a7e" stroke="#a23842" stroke-width="0.65" />
<rect x="543.80" y="81.60" width="5.60" height="5.60" fill="#ea7a7e" stroke="#a23842" stroke-width="0.65" />
<circle cx="543.50" cy="48.60" r="3.00" fill="#d7192e" stroke="#8a0f1e" stroke-width="0.5" />
<circle cx="543.50" cy="64.70" r="3.00" fill="#d7192e" stroke="#8a0f1e" stroke-width="0.5" />
<rect x="641.00" y="83.60" width="5.60" height="5.60" fill="#5b8fd0" stroke="#2f4f86" stroke-width="0.65" />
<rect x="632.60" y="101.40" width="5.60" height="5.60" fill="#5b8fd0" stroke="#2f4f86" stroke-width="0.65" />
<rect x="611.40" y="123.20" width="5.60" height="5.60" fill="#5b8fd0" stroke="#2f4f86" stroke-width="0.65" />
<rect x="608.90" y="122.10" width="5.60" height="5.60" fill="#5b8fd0" stroke="#2f4f86" stroke-width="0.65" />
<rect x="629.20" y="128.00" width="5.60" height="5.60" fill="#5b8fd0" stroke="#2f4f86" stroke-width="0.65" />
<rect x="637.70" y="126.90" width="5.60" height="5.60" fill="#5b8fd0" stroke="#2f4f86" stroke-width="0.65" />
<circle cx="623.60" cy="159.30" r="2.90" fill="#2d4f9e" stroke="#1f3877" stroke-width="0.5" />
<circle cx="625.40" cy="159.30" r="2.90" fill="#2d4f9e" stroke="#1f3877" stroke-width="0.5" />
<text x="442.60" y="26.60" font-size="8.5" fill="#333" textLength="14.20" lengthAdjust="spacingAndGlyphs">Key</text>
<circle cx="433.50" cy="34.60" r="3.80" fill="#d7192e" stroke="#8a0f1e" stroke-width="0.5" />
<text x="442.10" y="36.90" font-size="8.5" fill="#333" textLength="22.80" lengthAdjust="spacingAndGlyphs">E4-TR</text>
<rect x="429.70" y="43.30" width="7.60" height="7.40" fill="#ea7a7e" stroke="#a23842" stroke-width="0.5" />
<text x="442.10" y="50.40" font-size="8.5" fill="#333" textLength="43.90" lengthAdjust="spacingAndGlyphs">Other cells</text>
<circle cx="433.50" cy="59.40" r="3.80" fill="#2d4f9e" stroke="#1f3877" stroke-width="0.5" />
<text x="442.10" y="61.00" font-size="8.5" fill="#333" textLength="22.40" lengthAdjust="spacingAndGlyphs">E2-TR</text>
<rect x="429.70" y="68.40" width="7.60" height="7.40" fill="#5b8fd0" stroke="#2f4f86" stroke-width="0.5" />
<text x="442.10" y="74.50" font-size="8.5" fill="#333" textLength="42.10" lengthAdjust="spacingAndGlyphs">Astrocytes</text>
<text x="640.90" y="23.10" font-size="8.5" fill="#333" textLength="14.20" lengthAdjust="spacingAndGlyphs">Key</text>
<circle cx="632.40" cy="31.70" r="3.80" fill="#d7192e" stroke="#8a0f1e" stroke-width="0.5" />
<text x="640.90" y="33.90" font-size="8.5" fill="#333" textLength="22.60" lengthAdjust="spacingAndGlyphs">E4-TR</text>
<rect x="628.60" y="40.50" width="7.60" height="7.40" fill="#ea7a7e" stroke="#a23842" stroke-width="0.5" />
<text x="640.90" y="46.00" font-size="8.5" fill="#333" textLength="36.40" lengthAdjust="spacingAndGlyphs">APOE4s2</text>
<circle cx="632.40" cy="56.60" r="3.80" fill="#2d4f9e" stroke="#1f3877" stroke-width="0.5" />
<text x="640.90" y="58.10" font-size="8.5" fill="#333" textLength="22.20" lengthAdjust="spacingAndGlyphs">E2-TR</text>
<rect x="628.60" y="65.30" width="7.60" height="7.40" fill="#5b8fd0" stroke="#2f4f86" stroke-width="0.5" />
<text x="640.90" y="71.80" font-size="8.5" fill="#333" textLength="40.40" lengthAdjust="spacingAndGlyphs">APOE4s2<tspan font-size="5" dy="-2.9">A</tspan></text>
<rect x="48.20" y="206.60" width="229.60" height="16.60" fill="#ffffff" stroke="#6b6b6b" stroke-width="0.6" />
<text x="108.40" y="219.10" font-size="8.5" fill="#2b2b2b" textLength="107.00" lengthAdjust="spacingAndGlyphs"><tspan fill="#e8384f">APOE4s2</tspan><tspan fill="#333"> versus </tspan><tspan fill="#4a68c0">APOE4s2</tspan><tspan fill="#4a68c0" font-size="5.2" dy="-3.3">A</tspan></text>
<line x1="38.80" y1="238.50" x2="38.80" y2="340.30" stroke="#6b6b6b" stroke-width="0.7" />
<line x1="38.80" y1="340.30" x2="268.00" y2="340.30" stroke="#6b6b6b" stroke-width="0.7" />
<line x1="36.40" y1="340.30" x2="38.80" y2="340.30" stroke="#6b6b6b" stroke-width="0.7" />
<text x="32.60" y="343.00" font-size="7.7" fill="#444" text-anchor="end">0</text>
<line x1="36.40" y1="308.62" x2="38.80" y2="308.62" stroke="#6b6b6b" stroke-width="0.7" />
<text x="32.60" y="311.32" font-size="7.7" fill="#444" text-anchor="end" textLength="8.20" lengthAdjust="spacingAndGlyphs">50</text>
<line x1="36.40" y1="276.95" x2="38.80" y2="276.95" stroke="#6b6b6b" stroke-width="0.7" />
<text x="32.60" y="279.65" font-size="7.7" fill="#444" text-anchor="end" textLength="12.00" lengthAdjust="spacingAndGlyphs">100</text>
<line x1="36.40" y1="245.28" x2="38.80" y2="245.28" stroke="#6b6b6b" stroke-width="0.7" />
<text x="32.60" y="247.98" font-size="7.7" fill="#444" text-anchor="end" textLength="12.00" lengthAdjust="spacingAndGlyphs">150</text>
<text x="13.80" y="289.60" font-size="8.3" fill="#333" text-anchor="middle" textLength="66.40" lengthAdjust="spacingAndGlyphs" transform="rotate(-90 13.80 289.60)">Number of DEGs</text>
<rect x="41.90" y="271.25" width="15.30" height="69.05" fill="#00a28a" stroke="#3a3a3a" stroke-width="0.45" />
<text x="54.55" y="347.90" font-size="8.6" fill="#333" text-anchor="end" textLength="40.00" lengthAdjust="spacingAndGlyphs" transform="rotate(-45 54.55 347.90)">Microglia</text>
<rect x="60.70" y="289.62" width="15.30" height="50.68" fill="#6872b1" stroke="#3a3a3a" stroke-width="0.45" />
<text x="73.35" y="347.90" font-size="8.6" fill="#333" text-anchor="end" textLength="73.40" lengthAdjust="spacingAndGlyphs" transform="rotate(-45 73.35 347.90)">Oligodendrocytes</text>
<rect x="79.50" y="301.15" width="15.30" height="39.15" fill="#ec5b5f" stroke="#3a3a3a" stroke-width="0.45" />
<text x="92.15" y="347.90" font-size="8.6" fill="#333" text-anchor="end" textLength="42.90" lengthAdjust="spacingAndGlyphs" transform="rotate(-45 92.15 347.90)">Astrocytes</text>
<rect x="98.30" y="323.51" width="15.30" height="16.79" fill="#846a2a" stroke="#3a3a3a" stroke-width="0.45" />
<text x="110.95" y="347.90" font-size="8.6" fill="#333" text-anchor="end" textLength="68.20" lengthAdjust="spacingAndGlyphs" transform="rotate(-45 110.95 347.90)">Endothelial cells</text>
<rect x="117.10" y="333.33" width="15.30" height="6.97" fill="#e17a2c" stroke="#3a3a3a" stroke-width="0.45" />
<text x="129.75" y="347.90" font-size="8.6" fill="#333" text-anchor="end" textLength="11.90" lengthAdjust="spacingAndGlyphs" transform="rotate(-45 129.75 347.90)">CP</text>
<rect x="135.90" y="337.13" width="15.30" height="3.17" fill="#c5539f" stroke="#3a3a3a" stroke-width="0.45" />
<text x="148.55" y="347.90" font-size="8.6" fill="#333" text-anchor="end" textLength="37.80" lengthAdjust="spacingAndGlyphs" transform="rotate(-45 148.55 347.90)">Pericytes</text>
<rect x="154.70" y="339.29" width="15.30" height="1.01" fill="#4a79a5" stroke="#3a3a3a" stroke-width="0.45" />
<text x="167.35" y="347.90" font-size="8.6" fill="#333" text-anchor="end" textLength="11.90" lengthAdjust="spacingAndGlyphs" transform="rotate(-45 167.35 347.90)">NP</text>
<rect x="173.50" y="338.91" width="15.30" height="1.39" fill="#6b8a3c" stroke="#3a3a3a" stroke-width="0.45" />
<text x="186.15" y="347.90" font-size="8.6" fill="#333" text-anchor="end" textLength="68.10" lengthAdjust="spacingAndGlyphs" transform="rotate(-45 186.15 347.90)">Ependymal cells</text>
<rect x="192.30" y="339.16" width="15.30" height="1.14" fill="#3f8050" stroke="#3a3a3a" stroke-width="0.45" />
<text x="204.95" y="347.90" font-size="8.6" fill="#333" text-anchor="end" textLength="57.30" lengthAdjust="spacingAndGlyphs" transform="rotate(-45 204.95 347.90)">Lymphocytes</text>
<rect x="211.10" y="339.16" width="15.30" height="1.14" fill="#7c5a86" stroke="#3a3a3a" stroke-width="0.45" />
<text x="223.75" y="347.90" font-size="8.6" fill="#333" text-anchor="end" textLength="24.10" lengthAdjust="spacingAndGlyphs" transform="rotate(-45 223.75 347.90)">OPCs</text>
<rect x="229.90" y="338.02" width="15.30" height="2.28" fill="#1fa2d2" stroke="#3a3a3a" stroke-width="0.45" />
<text x="242.55" y="347.90" font-size="8.6" fill="#333" text-anchor="end" textLength="37.10" lengthAdjust="spacingAndGlyphs" transform="rotate(-45 242.55 347.90)">Neurons</text>
<text x="261.35" y="347.90" font-size="8.6" fill="#333" text-anchor="end" textLength="57.60" lengthAdjust="spacingAndGlyphs" transform="rotate(-45 261.35 347.90)">Macrophages</text>
<rect x="330.30" y="206.60" width="350.70" height="16.60" fill="#ffffff" stroke="#6b6b6b" stroke-width="0.6" />
<text x="505.60" y="218.70" font-size="8.4" fill="#333" text-anchor="middle" textLength="168.50" lengthAdjust="spacingAndGlyphs">APOE4s2<tspan font-size="5.2" dy="-3.3">A</tspan><tspan dy="3.3"> transcriptomics dataset overlap</tspan></text>
<line x1="319.70" y1="247.70" x2="319.70" y2="338.80" stroke="#6b6b6b" stroke-width="0.7" />
<line x1="319.70" y1="338.80" x2="681.50" y2="338.80" stroke="#6b6b6b" stroke-width="0.7" />
<line x1="317.40" y1="338.80" x2="319.70" y2="338.80" stroke="#6b6b6b" stroke-width="0.7" />
<text x="313.60" y="341.50" font-size="7.7" fill="#444" text-anchor="end">0</text>
<line x1="317.40" y1="316.02" x2="319.70" y2="316.02" stroke="#6b6b6b" stroke-width="0.7" />
<text x="313.60" y="318.72" font-size="7.7" fill="#444" text-anchor="end" textLength="8.00" lengthAdjust="spacingAndGlyphs">20</text>
<line x1="317.40" y1="293.24" x2="319.70" y2="293.24" stroke="#6b6b6b" stroke-width="0.7" />
<text x="313.60" y="295.94" font-size="7.7" fill="#444" text-anchor="end" textLength="8.00" lengthAdjust="spacingAndGlyphs">40</text>
<line x1="317.40" y1="270.46" x2="319.70" y2="270.46" stroke="#6b6b6b" stroke-width="0.7" />
<text x="313.60" y="273.16" font-size="7.7" fill="#444" text-anchor="end" textLength="8.00" lengthAdjust="spacingAndGlyphs">60</text>
<line x1="317.40" y1="247.68" x2="319.70" y2="247.68" stroke="#6b6b6b" stroke-width="0.7" />
<text x="313.60" y="250.38" font-size="7.7" fill="#444" text-anchor="end" textLength="8.00" lengthAdjust="spacingAndGlyphs">80</text>
<text x="296.40" y="293.20" font-size="8.3" fill="#333" text-anchor="middle" textLength="77.60" lengthAdjust="spacingAndGlyphs" transform="rotate(-90 296.40 293.20)">Percentage overlap</text>
<rect x="328.00" y="268.18" width="16.10" height="70.62" fill="#ea4a51" stroke="#4a4a4a" stroke-width="0.45" />
<rect x="347.35" y="267.04" width="16.10" height="71.76" fill="#0fa07c" stroke="#4a4a4a" stroke-width="0.45" />
<rect x="366.70" y="259.07" width="16.10" height="79.73" fill="#5a68a9" stroke="#4a4a4a" stroke-width="0.45" />
<rect x="386.05" y="267.04" width="16.10" height="71.76" fill="#b0872f" stroke="#4a4a4a" stroke-width="0.45" />
<rect x="424.90" y="280.71" width="16.10" height="58.09" fill="#ea4a51" stroke="#4a4a4a" stroke-width="0.45" />
<rect x="444.25" y="269.32" width="16.10" height="69.48" fill="#0fa07c" stroke="#4a4a4a" stroke-width="0.45" />
<rect x="463.60" y="260.21" width="16.10" height="78.59" fill="#5a68a9" stroke="#4a4a4a" stroke-width="0.45" />
<rect x="482.95" y="271.60" width="16.10" height="67.20" fill="#b0872f" stroke="#4a4a4a" stroke-width="0.45" />
<rect x="521.80" y="320.58" width="16.10" height="18.22" fill="#ea4a51" stroke="#4a4a4a" stroke-width="0.45" />
<rect x="541.15" y="327.41" width="16.10" height="11.39" fill="#0fa07c" stroke="#4a4a4a" stroke-width="0.45" />
<rect x="560.50" y="326.27" width="16.10" height="12.53" fill="#5a68a9" stroke="#4a4a4a" stroke-width="0.45" />
<rect x="579.85" y="330.83" width="16.10" height="7.97" fill="#b0872f" stroke="#4a4a4a" stroke-width="0.45" />
<rect x="618.60" y="334.24" width="16.30" height="4.56" fill="#0fa07c" stroke="#4a4a4a" stroke-width="0.45" />
<rect x="657.20" y="335.50" width="16.40" height="3.30" fill="#ea4a51" stroke="#4a4a4a" stroke-width="0.45" />
<line x1="365.10" y1="338.80" x2="365.10" y2="341.10" stroke="#6b6b6b" stroke-width="0.7" />
<line x1="462.00" y1="338.80" x2="462.00" y2="341.10" stroke="#6b6b6b" stroke-width="0.7" />
<line x1="558.80" y1="338.80" x2="558.80" y2="341.10" stroke="#6b6b6b" stroke-width="0.7" />
<line x1="626.60" y1="338.80" x2="626.60" y2="341.10" stroke="#6b6b6b" stroke-width="0.7" />
<line x1="665.30" y1="338.80" x2="665.30" y2="341.10" stroke="#6b6b6b" stroke-width="0.7" />
<text x="364.90" y="351.50" font-size="8.0" fill="#333" text-anchor="middle" textLength="23.00" lengthAdjust="spacingAndGlyphs">LOAD</text>
<text x="364.90" y="361.80" font-size="8.0" fill="#333" text-anchor="middle" textLength="78.20" lengthAdjust="spacingAndGlyphs">(De Bastiani et al.<tspan font-size="4.8" dy="-3.1">25</tspan><tspan dy="3.1">)</tspan></text>
<text x="461.80" y="351.50" font-size="8.0" fill="#333" text-anchor="middle" textLength="91.80" lengthAdjust="spacingAndGlyphs">Early-onset AD &amp; LOAD</text>
<text x="462.00" y="361.80" font-size="8.0" fill="#333" text-anchor="middle" textLength="78.20" lengthAdjust="spacingAndGlyphs">(De Bastiani et al.<tspan font-size="4.8" dy="-3.1">25</tspan><tspan dy="3.1">)</tspan></text>
<text x="558.60" y="351.50" font-size="8.0" fill="#333" text-anchor="middle" textLength="84.30" lengthAdjust="spacingAndGlyphs">APOE2 versus APOE4</text>
<text x="558.90" y="361.80" font-size="8.0" fill="#333" text-anchor="middle" textLength="54.30" lengthAdjust="spacingAndGlyphs">(Zhao et al.<tspan font-size="4.8" dy="-3.1">26</tspan><tspan dy="3.1">)</tspan></text>
<text x="624.20" y="351.50" font-size="8.0" fill="#333" text-anchor="middle" textLength="18.20" lengthAdjust="spacingAndGlyphs">DAM</text>
<text x="623.90" y="361.80" font-size="8.0" fill="#333" text-anchor="middle" textLength="50.70" lengthAdjust="spacingAndGlyphs">(Keren-Shaul</text>
<text x="623.90" y="372.10" font-size="8.0" fill="#333" text-anchor="middle" textLength="29.10" lengthAdjust="spacingAndGlyphs">et al.<tspan font-size="4.8" dy="-3.1">28</tspan><tspan dy="3.1">)</tspan></text>
<text x="667.10" y="351.50" font-size="8.0" fill="#333" text-anchor="middle" textLength="17.40" lengthAdjust="spacingAndGlyphs">DAA</text>
<text x="666.90" y="361.80" font-size="8.0" fill="#333" text-anchor="middle" textLength="26.00" lengthAdjust="spacingAndGlyphs">(Habib</text>
<text x="666.90" y="372.10" font-size="8.0" fill="#333" text-anchor="middle" textLength="28.20" lengthAdjust="spacingAndGlyphs">et al.<tspan font-size="4.8" dy="-3.1">27</tspan><tspan dy="3.1">)</tspan></text>
<text x="624.70" y="236.10" font-size="7.8" fill="#333" textLength="13.90" lengthAdjust="spacingAndGlyphs">Key</text>
<rect x="612.00" y="243.90" width="7.60" height="7.40" fill="#ea4a51" stroke="#4a4a4a" stroke-width="0.5" />
<text x="624.70" y="249.80" font-size="7.0" fill="#333" textLength="35.20" lengthAdjust="spacingAndGlyphs">Astrocytes</text>
<rect x="612.00" y="255.33" width="7.60" height="7.40" fill="#0fa07c" stroke="#4a4a4a" stroke-width="0.5" />
<text x="624.70" y="261.10" font-size="7.0" fill="#333" textLength="31.00" lengthAdjust="spacingAndGlyphs">Microglia</text>
<rect x="612.00" y="266.76" width="7.60" height="7.40" fill="#5a68a9" stroke="#4a4a4a" stroke-width="0.5" />
<text x="624.70" y="272.50" font-size="7.0" fill="#333" textLength="60.60" lengthAdjust="spacingAndGlyphs">Oligodendrocytes</text>
<rect x="612.00" y="278.19" width="7.60" height="7.40" fill="#b0872f" stroke="#4a4a4a" stroke-width="0.5" />
<text x="624.70" y="283.80" font-size="7.0" fill="#333" textLength="55.20" lengthAdjust="spacingAndGlyphs">Endothelial cells</text>
<clipPath id="vc1"><circle cx="59.4" cy="473.8" r="53.0"/></clipPath>
<circle cx="59.40" cy="473.80" r="53.00" fill="#aad4cb" stroke="none" stroke-width="0.5" />
<circle cx="115.60" cy="474.20" r="53.00" fill="#9bccc2" stroke="none" stroke-width="0.5" />
<circle cx="115.6" cy="474.2" r="53.0" fill="#74b9ab" clip-path="url(#vc1)"/>
<circle cx="59.40" cy="473.80" r="53.00" fill="none" stroke="#22413c" stroke-width="0.7" />
<circle cx="115.60" cy="474.20" r="53.00" fill="none" stroke="#22413c" stroke-width="0.7" />
<circle cx="115.6" cy="474.2" r="53.0" fill="none" stroke="#2b5c9c" stroke-width="0.7" clip-path="url(#vc1)"/>
<text x="87.50" y="413.40" font-size="8.0" fill="#35b59e" text-anchor="middle" textLength="37.00" lengthAdjust="spacingAndGlyphs">Microglia</text>
<text x="88.40" y="476.50" font-size="8.2" fill="#333" text-anchor="middle" textLength="17.40" lengthAdjust="spacingAndGlyphs">39%</text>
<text x="36.80" y="466.10" font-size="8.2" fill="#c9283e" text-anchor="middle" textLength="36.20" lengthAdjust="spacingAndGlyphs">APOE4s2</text>
<text x="36.80" y="476.50" font-size="8.2" fill="#333" text-anchor="middle" textLength="24.60" lengthAdjust="spacingAndGlyphs">versus</text>
<text x="36.80" y="486.80" font-size="8.2" fill="#3f62b5" text-anchor="middle" textLength="40.40" lengthAdjust="spacingAndGlyphs">APOE4s2<tspan font-size="5" dy="-3.2">A</tspan></text>
<text x="137.00" y="466.10" font-size="8.2" fill="#c9283e" text-anchor="middle" textLength="36.20" lengthAdjust="spacingAndGlyphs">APOE4s2</text>
<text x="137.00" y="476.50" font-size="8.2" fill="#333" text-anchor="middle" textLength="24.60" lengthAdjust="spacingAndGlyphs">versus</text>
<text x="137.00" y="486.80" font-size="8.2" fill="#3f62b5" text-anchor="middle" textLength="40.40" lengthAdjust="spacingAndGlyphs">APOE4s2<tspan font-size="5" dy="-3.2">G</tspan></text>
<clipPath id="vc2"><circle cx="228.4" cy="474.0" r="54.5"/></clipPath>
<circle cx="228.40" cy="474.00" r="54.50" fill="#c6c9e3" stroke="none" stroke-width="0.5" />
<circle cx="277.00" cy="474.40" r="54.00" fill="#b9bcd9" stroke="none" stroke-width="0.5" />
<circle cx="277.0" cy="474.4" r="54.0" fill="#9fa2ca" clip-path="url(#vc2)"/>
<circle cx="228.40" cy="474.00" r="54.50" fill="none" stroke="#30365a" stroke-width="0.7" />
<circle cx="277.00" cy="474.40" r="54.00" fill="none" stroke="#30365a" stroke-width="0.7" />
<clipPath id="vd2"><circle cx="277.0" cy="474.4" r="54.0"/></clipPath>
<circle cx="228.4" cy="474.0" r="54.5" fill="none" stroke="#3c5fb4" stroke-width="0.7" clip-path="url(#vd2)"/>
<text x="252.40" y="413.40" font-size="8.0" fill="#5a69b2" text-anchor="middle" textLength="71.80" lengthAdjust="spacingAndGlyphs">Oligodendrocytes</text>
<text x="255.00" y="476.50" font-size="8.2" fill="#333" text-anchor="middle" textLength="17.40" lengthAdjust="spacingAndGlyphs">60%</text>
<text x="199.50" y="466.10" font-size="8.2" fill="#c9283e" text-anchor="middle" textLength="36.20" lengthAdjust="spacingAndGlyphs">APOE4s2</text>
<text x="199.50" y="476.50" font-size="8.2" fill="#333" text-anchor="middle" textLength="24.60" lengthAdjust="spacingAndGlyphs">versus</text>
<text x="199.50" y="486.80" font-size="8.2" fill="#3f62b5" text-anchor="middle" textLength="40.40" lengthAdjust="spacingAndGlyphs">APOE4s2<tspan font-size="5" dy="-3.2">A</tspan></text>
<text x="304.70" y="466.10" font-size="8.2" fill="#c9283e" text-anchor="middle" textLength="36.20" lengthAdjust="spacingAndGlyphs">APOE4s2</text>
<text x="304.70" y="476.50" font-size="8.2" fill="#333" text-anchor="middle" textLength="24.60" lengthAdjust="spacingAndGlyphs">versus</text>
<text x="304.70" y="486.80" font-size="8.2" fill="#3f62b5" text-anchor="middle" textLength="40.40" lengthAdjust="spacingAndGlyphs">APOE4s2<tspan font-size="5" dy="-3.2">G</tspan></text>
<clipPath id="vc3"><circle cx="394.9" cy="474.5" r="54.3"/></clipPath>
<circle cx="394.90" cy="474.50" r="54.30" fill="#f3c6c3" stroke="none" stroke-width="0.5" />
<circle cx="451.60" cy="474.60" r="54.00" fill="#eeaaa7" stroke="none" stroke-width="0.5" />
<circle cx="451.6" cy="474.6" r="54.0" fill="#e8928d" clip-path="url(#vc3)"/>
<circle cx="394.90" cy="474.50" r="54.30" fill="none" stroke="#4a2626" stroke-width="0.7" />
<circle cx="451.60" cy="474.60" r="54.00" fill="none" stroke="#4a2626" stroke-width="0.7" />
<text x="423.80" y="413.40" font-size="8.0" fill="#e23f58" text-anchor="middle" textLength="42.20" lengthAdjust="spacingAndGlyphs">Astrocytes</text>
<text x="424.80" y="476.50" font-size="8.2" fill="#333" text-anchor="middle" textLength="17.40" lengthAdjust="spacingAndGlyphs">46%</text>
<text x="373.10" y="466.10" font-size="8.2" fill="#c9283e" text-anchor="middle" textLength="36.20" lengthAdjust="spacingAndGlyphs">APOE4s2</text>
<text x="373.10" y="476.50" font-size="8.2" fill="#333" text-anchor="middle" textLength="24.60" lengthAdjust="spacingAndGlyphs">versus</text>
<text x="373.10" y="486.80" font-size="8.2" fill="#3f62b5" text-anchor="middle" textLength="40.40" lengthAdjust="spacingAndGlyphs">APOE4s2<tspan font-size="5" dy="-3.2">A</tspan></text>
<text x="477.50" y="466.10" font-size="8.2" fill="#c9283e" text-anchor="middle" textLength="36.20" lengthAdjust="spacingAndGlyphs">APOE4s2</text>
<text x="477.50" y="476.50" font-size="8.2" fill="#333" text-anchor="middle" textLength="24.60" lengthAdjust="spacingAndGlyphs">versus</text>
<text x="477.50" y="486.80" font-size="8.2" fill="#3f62b5" text-anchor="middle" textLength="40.40" lengthAdjust="spacingAndGlyphs">APOE4s2<tspan font-size="5" dy="-3.2">G</tspan></text>
<clipPath id="vc4"><circle cx="565.8" cy="473.0" r="50.2"/></clipPath>
<circle cx="565.80" cy="473.00" r="50.20" fill="#ddd5a9" stroke="none" stroke-width="0.5" />
<circle cx="620.40" cy="473.60" r="57.00" fill="#cfc28b" stroke="none" stroke-width="0.5" />
<circle cx="620.4" cy="473.6" r="57.0" fill="#c1b067" clip-path="url(#vc4)"/>
<circle cx="565.80" cy="473.00" r="50.20" fill="none" stroke="#3c3517" stroke-width="0.7" />
<circle cx="620.40" cy="473.60" r="57.00" fill="none" stroke="#3c3517" stroke-width="0.7" />
<text x="597.50" y="413.40" font-size="8.0" fill="#b39a56" text-anchor="middle" textLength="44.70" lengthAdjust="spacingAndGlyphs">Endothelial</text>
<text x="594.00" y="476.50" font-size="8.2" fill="#333" text-anchor="middle" textLength="17.40" lengthAdjust="spacingAndGlyphs">55%</text>
<text x="542.30" y="466.10" font-size="8.2" fill="#c9283e" text-anchor="middle" textLength="36.20" lengthAdjust="spacingAndGlyphs">APOE4s2</text>
<text x="542.30" y="476.50" font-size="8.2" fill="#333" text-anchor="middle" textLength="24.60" lengthAdjust="spacingAndGlyphs">versus</text>
<text x="542.30" y="486.80" font-size="8.2" fill="#3f62b5" text-anchor="middle" textLength="40.40" lengthAdjust="spacingAndGlyphs">APOE4s2<tspan font-size="5" dy="-3.2">A</tspan></text>
<text x="642.30" y="466.10" font-size="8.2" fill="#c9283e" text-anchor="middle" textLength="36.20" lengthAdjust="spacingAndGlyphs">APOE4s2</text>
<text x="642.30" y="476.50" font-size="8.2" fill="#333" text-anchor="middle" textLength="24.60" lengthAdjust="spacingAndGlyphs">versus</text>
<text x="642.30" y="486.80" font-size="8.2" fill="#3f62b5" text-anchor="middle" textLength="40.40" lengthAdjust="spacingAndGlyphs">APOE4s2<tspan font-size="5" dy="-3.2">G</tspan></text>
<text x="155.00" y="558.70" font-size="8.4" fill="#00a38b" text-anchor="middle" textLength="36.50" lengthAdjust="spacingAndGlyphs">Microglia</text>
<text x="72.80" y="570.10" font-size="8.5" fill="#555" textLength="60.80" lengthAdjust="spacingAndGlyphs">Downregulated</text>
<text x="172.70" y="570.10" font-size="8.5" fill="#555" textLength="49.60" lengthAdjust="spacingAndGlyphs">Upregulated</text>
<line x1="123.63" y1="578.30" x2="123.63" y2="662.50" stroke="#555" stroke-width="0.55" stroke-dasharray="1.8 1.8"/>
<line x1="177.07" y1="578.30" x2="177.07" y2="662.50" stroke="#555" stroke-width="0.55" stroke-dasharray="1.8 1.8"/>
<rect x="112.40" y="584.70" width="33.20" height="10.90" fill="#0fa189" stroke="#0a5f51" stroke-width="0.55" />
<rect x="155.10" y="584.70" width="52.60" height="10.90" fill="#0fa189" stroke="#0a5f51" stroke-width="0.55" />
<rect x="117.80" y="600.00" width="27.80" height="10.90" fill="#0fa189" stroke="#0a5f51" stroke-width="0.55" />
<rect x="155.10" y="600.00" width="46.50" height="10.90" fill="#0fa189" stroke="#0a5f51" stroke-width="0.55" />
<rect x="118.80" y="614.90" width="26.80" height="10.90" fill="#0fa189" stroke="#0a5f51" stroke-width="0.55" />
<rect x="155.10" y="614.90" width="42.60" height="10.90" fill="#0fa189" stroke="#0a5f51" stroke-width="0.55" />
<rect x="120.10" y="630.20" width="25.50" height="10.90" fill="#0fa189" stroke="#0a5f51" stroke-width="0.55" />
<rect x="155.10" y="630.20" width="42.60" height="10.90" fill="#0fa189" stroke="#0a5f51" stroke-width="0.55" />
<rect x="121.10" y="645.50" width="24.50" height="10.90" fill="#0fa189" stroke="#0a5f51" stroke-width="0.55" />
<rect x="155.10" y="645.50" width="42.60" height="10.90" fill="#0fa189" stroke="#0a5f51" stroke-width="0.55" />
<line x1="145.60" y1="578.30" x2="145.60" y2="665.00" stroke="#6b6b6b" stroke-width="0.7" />
<line x1="155.10" y1="578.30" x2="155.10" y2="665.00" stroke="#6b6b6b" stroke-width="0.7" />
<line x1="61.10" y1="662.50" x2="145.60" y2="662.50" stroke="#6b6b6b" stroke-width="0.7" />
<line x1="155.10" y1="662.50" x2="239.60" y2="662.50" stroke="#6b6b6b" stroke-width="0.7" />
<line x1="145.60" y1="662.50" x2="145.60" y2="665.00" stroke="#6b6b6b" stroke-width="0.7" />
<line x1="155.10" y1="662.50" x2="155.10" y2="665.00" stroke="#6b6b6b" stroke-width="0.7" />
<text x="145.60" y="674.70" font-size="7.8" fill="#444" text-anchor="middle">0</text>
<text x="155.10" y="674.70" font-size="7.8" fill="#444" text-anchor="middle">0</text>
<line x1="128.70" y1="662.50" x2="128.70" y2="665.00" stroke="#6b6b6b" stroke-width="0.7" />
<line x1="172.00" y1="662.50" x2="172.00" y2="665.00" stroke="#6b6b6b" stroke-width="0.7" />
<text x="127.70" y="674.70" font-size="7.8" fill="#444" text-anchor="middle">−1</text>
<text x="172.00" y="674.70" font-size="7.8" fill="#444" text-anchor="middle">1</text>
<line x1="111.80" y1="662.50" x2="111.80" y2="665.00" stroke="#6b6b6b" stroke-width="0.7" />
<line x1="188.90" y1="662.50" x2="188.90" y2="665.00" stroke="#6b6b6b" stroke-width="0.7" />
<text x="110.80" y="674.70" font-size="7.8" fill="#444" text-anchor="middle">−2</text>
<text x="188.90" y="674.70" font-size="7.8" fill="#444" text-anchor="middle">2</text>
<line x1="94.90" y1="662.50" x2="94.90" y2="665.00" stroke="#6b6b6b" stroke-width="0.7" />
<line x1="205.80" y1="662.50" x2="205.80" y2="665.00" stroke="#6b6b6b" stroke-width="0.7" />
<text x="93.90" y="674.70" font-size="7.8" fill="#444" text-anchor="middle">−3</text>
<text x="205.80" y="674.70" font-size="7.8" fill="#444" text-anchor="middle">3</text>
<line x1="78.00" y1="662.50" x2="78.00" y2="665.00" stroke="#6b6b6b" stroke-width="0.7" />
<line x1="222.70" y1="662.50" x2="222.70" y2="665.00" stroke="#6b6b6b" stroke-width="0.7" />
<text x="77.00" y="674.70" font-size="7.8" fill="#444" text-anchor="middle">−4</text>
<text x="222.70" y="674.70" font-size="7.8" fill="#444" text-anchor="middle">4</text>
<line x1="61.10" y1="662.50" x2="61.10" y2="665.00" stroke="#6b6b6b" stroke-width="0.7" />
<line x1="239.60" y1="662.50" x2="239.60" y2="665.00" stroke="#6b6b6b" stroke-width="0.7" />
<text x="60.10" y="674.70" font-size="7.8" fill="#444" text-anchor="middle">−5</text>
<text x="239.60" y="674.70" font-size="7.8" fill="#444" text-anchor="middle">5</text>
<text x="103.50" y="688.20" font-size="8.2" fill="#333" text-anchor="middle" textLength="33.40" lengthAdjust="spacingAndGlyphs">−log<tspan font-size="5.4" dy="1.8">10</tspan><tspan dy="-1.8">(</tspan><tspan font-style="italic">P</tspan>)</text>
<text x="197.50" y="688.20" font-size="8.2" fill="#333" text-anchor="middle" textLength="33.40" lengthAdjust="spacingAndGlyphs">−log<tspan font-size="5.4" dy="1.8">10</tspan><tspan dy="-1.8">(</tspan><tspan font-style="italic">P</tspan>)</text>
<text x="107.30" y="591.95" font-size="7.9" fill="#222" text-anchor="end" textLength="101.40" lengthAdjust="spacingAndGlyphs">Complement receptor activity</text>
<text x="211.80" y="591.95" font-size="7.9" fill="#222" textLength="68.70" lengthAdjust="spacingAndGlyphs">Microtubule binding</text>
<text x="113.70" y="607.25" font-size="7.9" fill="#222" text-anchor="end" textLength="48.00" lengthAdjust="spacingAndGlyphs">Notch binding</text>
<text x="205.70" y="607.25" font-size="7.9" fill="#222" textLength="72.30" lengthAdjust="spacingAndGlyphs">Transaminase activity</text>
<text x="114.50" y="622.15" font-size="7.9" fill="#222" text-anchor="end" textLength="104.80" lengthAdjust="spacingAndGlyphs">Glutathione transferase activity</text>
<text x="202.10" y="622.15" font-size="7.9" fill="#222" textLength="93.80" lengthAdjust="spacingAndGlyphs">Glutamate receptor binding</text>
<text x="115.70" y="637.45" font-size="7.9" fill="#222" text-anchor="end" textLength="100.40" lengthAdjust="spacingAndGlyphs">NADH dehydrogenase activity</text>
<text x="202.10" y="639.60" font-size="7.9" fill="#222" textLength="109.80" lengthAdjust="spacingAndGlyphs">Amino acid : Na<tspan font-size="4.6" dy="-3.7">+</tspan><tspan dy="3.7" font-size="0.1">&#8203;</tspan> symport activity</text>
<text x="117.00" y="652.75" font-size="7.9" fill="#222" text-anchor="end" textLength="79.40" lengthAdjust="spacingAndGlyphs">Receptor ligand activity</text>
<text x="202.10" y="652.75" font-size="7.9" fill="#222" textLength="63.90" lengthAdjust="spacingAndGlyphs">Cl<tspan font-size="4.6" dy="-3.7">−</tspan><tspan dy="3.7" font-size="0.1">&#8203;</tspan> channel activity</text>
<text x="497.60" y="558.70" font-size="8.4" fill="#5a69b2" text-anchor="middle" textLength="72.50" lengthAdjust="spacingAndGlyphs">Oligodendrocytes</text>
<text x="412.10" y="571.20" font-size="8.5" fill="#555" textLength="61.30" lengthAdjust="spacingAndGlyphs">Downregulated</text>
<text x="510.30" y="571.20" font-size="8.5" fill="#555" textLength="49.60" lengthAdjust="spacingAndGlyphs">Upregulated</text>
<line x1="462.86" y1="578.00" x2="462.86" y2="662.10" stroke="#555" stroke-width="0.55" stroke-dasharray="1.8 1.8"/>
<line x1="515.04" y1="578.00" x2="515.04" y2="662.10" stroke="#555" stroke-width="0.55" stroke-dasharray="1.8 1.8"/>
<rect x="445.00" y="584.30" width="39.50" height="10.90" fill="#5f6db4" stroke="#353d6b" stroke-width="0.55" />
<rect x="493.40" y="584.30" width="73.60" height="10.90" fill="#5f6db4" stroke="#353d6b" stroke-width="0.55" />
<rect x="446.10" y="599.60" width="38.40" height="10.90" fill="#5f6db4" stroke="#353d6b" stroke-width="0.55" />
<rect x="493.40" y="599.60" width="59.50" height="10.90" fill="#5f6db4" stroke="#353d6b" stroke-width="0.55" />
<rect x="447.10" y="614.50" width="37.40" height="10.90" fill="#5f6db4" stroke="#353d6b" stroke-width="0.55" />
<rect x="493.40" y="614.50" width="53.00" height="10.90" fill="#5f6db4" stroke="#353d6b" stroke-width="0.55" />
<rect x="452.20" y="629.80" width="32.30" height="10.90" fill="#5f6db4" stroke="#353d6b" stroke-width="0.55" />
<rect x="493.40" y="629.80" width="53.00" height="10.90" fill="#5f6db4" stroke="#353d6b" stroke-width="0.55" />
<rect x="453.00" y="645.10" width="31.50" height="10.90" fill="#5f6db4" stroke="#353d6b" stroke-width="0.55" />
<rect x="493.40" y="645.10" width="49.70" height="10.90" fill="#5f6db4" stroke="#353d6b" stroke-width="0.55" />
<line x1="484.50" y1="578.00" x2="484.50" y2="664.60" stroke="#6b6b6b" stroke-width="0.7" />
<line x1="493.40" y1="578.00" x2="493.40" y2="664.60" stroke="#6b6b6b" stroke-width="0.7" />
<line x1="401.25" y1="662.10" x2="484.50" y2="662.10" stroke="#6b6b6b" stroke-width="0.7" />
<line x1="493.40" y1="662.10" x2="576.65" y2="662.10" stroke="#6b6b6b" stroke-width="0.7" />
<line x1="484.50" y1="662.10" x2="484.50" y2="664.60" stroke="#6b6b6b" stroke-width="0.7" />
<line x1="493.40" y1="662.10" x2="493.40" y2="664.60" stroke="#6b6b6b" stroke-width="0.7" />
<text x="484.50" y="674.30" font-size="7.8" fill="#444" text-anchor="middle">0</text>
<text x="493.40" y="674.30" font-size="7.8" fill="#444" text-anchor="middle">0</text>
<line x1="467.85" y1="662.10" x2="467.85" y2="664.60" stroke="#6b6b6b" stroke-width="0.7" />
<line x1="510.05" y1="662.10" x2="510.05" y2="664.60" stroke="#6b6b6b" stroke-width="0.7" />
<text x="466.85" y="674.30" font-size="7.8" fill="#444" text-anchor="middle">−1</text>
<text x="510.05" y="674.30" font-size="7.8" fill="#444" text-anchor="middle">1</text>
<line x1="451.20" y1="662.10" x2="451.20" y2="664.60" stroke="#6b6b6b" stroke-width="0.7" />
<line x1="526.70" y1="662.10" x2="526.70" y2="664.60" stroke="#6b6b6b" stroke-width="0.7" />
<text x="450.20" y="674.30" font-size="7.8" fill="#444" text-anchor="middle">−2</text>
<text x="526.70" y="674.30" font-size="7.8" fill="#444" text-anchor="middle">2</text>
<line x1="434.55" y1="662.10" x2="434.55" y2="664.60" stroke="#6b6b6b" stroke-width="0.7" />
<line x1="543.35" y1="662.10" x2="543.35" y2="664.60" stroke="#6b6b6b" stroke-width="0.7" />
<text x="433.55" y="674.30" font-size="7.8" fill="#444" text-anchor="middle">−3</text>
<text x="543.35" y="674.30" font-size="7.8" fill="#444" text-anchor="middle">3</text>
<line x1="417.90" y1="662.10" x2="417.90" y2="664.60" stroke="#6b6b6b" stroke-width="0.7" />
<line x1="560.00" y1="662.10" x2="560.00" y2="664.60" stroke="#6b6b6b" stroke-width="0.7" />
<text x="416.90" y="674.30" font-size="7.8" fill="#444" text-anchor="middle">−4</text>
<text x="560.00" y="674.30" font-size="7.8" fill="#444" text-anchor="middle">4</text>
<line x1="401.25" y1="662.10" x2="401.25" y2="664.60" stroke="#6b6b6b" stroke-width="0.7" />
<line x1="576.65" y1="662.10" x2="576.65" y2="664.60" stroke="#6b6b6b" stroke-width="0.7" />
<text x="400.25" y="674.30" font-size="7.8" fill="#444" text-anchor="middle">−5</text>
<text x="576.65" y="674.30" font-size="7.8" fill="#444" text-anchor="middle">5</text>
<text x="442.80" y="687.80" font-size="8.2" fill="#333" text-anchor="middle" textLength="33.40" lengthAdjust="spacingAndGlyphs">−log<tspan font-size="5.4" dy="1.8">10</tspan><tspan dy="-1.8">(</tspan><tspan font-style="italic">P</tspan>)</text>
<text x="535.20" y="687.80" font-size="8.2" fill="#333" text-anchor="middle" textLength="33.40" lengthAdjust="spacingAndGlyphs">−log<tspan font-size="5.4" dy="1.8">10</tspan><tspan dy="-1.8">(</tspan><tspan font-style="italic">P</tspan>)</text>
<text x="440.70" y="592.15" font-size="7.9" fill="#222" text-anchor="end" textLength="81.00" lengthAdjust="spacingAndGlyphs">Sialyltransferase activity</text>
<text x="569.40" y="592.15" font-size="7.9" fill="#222" textLength="76.70" lengthAdjust="spacingAndGlyphs">GABA receptor activity</text>
<text x="442.70" y="607.45" font-size="7.9" fill="#222" text-anchor="end" textLength="121.30" lengthAdjust="spacingAndGlyphs">Gamma-aminobutyric acid transport</text>
<text x="555.60" y="607.45" font-size="7.9" fill="#222" textLength="128.80" lengthAdjust="spacingAndGlyphs">Transmitter-gated ion channel activity</text>
<text x="442.70" y="622.35" font-size="7.9" fill="#222" text-anchor="end" textLength="93.70" lengthAdjust="spacingAndGlyphs">Glutamate receptor binding</text>
<text x="550.70" y="622.35" font-size="7.9" fill="#222" textLength="108.20" lengthAdjust="spacingAndGlyphs">GABA-gated Cl<tspan font-size="4.6" dy="-3.7">−</tspan><tspan dy="3.7" font-size="0.1">&#8203;</tspan> channel activity</text>
<text x="447.30" y="637.65" font-size="7.9" fill="#222" text-anchor="end" textLength="97.30" lengthAdjust="spacingAndGlyphs">Cl<tspan font-size="4.6" dy="-3.7">−</tspan><tspan dy="3.7" font-size="0.1">&#8203;</tspan> channel regulator activity</text>
<text x="550.70" y="637.65" font-size="7.9" fill="#222" textLength="72.10" lengthAdjust="spacingAndGlyphs"><tspan font-size="4.8">L</tspan>-glutamate transport</text>
<text x="448.60" y="652.95" font-size="7.9" fill="#222" text-anchor="end" textLength="96.60" lengthAdjust="spacingAndGlyphs">Adrenergic receptor binding</text>
<text x="547.70" y="652.95" font-size="7.9" fill="#222" textLength="92.80" lengthAdjust="spacingAndGlyphs">Acidic amino acid transport</text>
<text x="168.00" y="714.70" font-size="8.4" fill="#f0616b" text-anchor="middle" textLength="42.20" lengthAdjust="spacingAndGlyphs">Astrocytes</text>
<text x="85.10" y="726.20" font-size="8.5" fill="#555" textLength="61.00" lengthAdjust="spacingAndGlyphs">Downregulated</text>
<text x="190.90" y="726.20" font-size="8.5" fill="#555" textLength="49.80" lengthAdjust="spacingAndGlyphs">Upregulated</text>
<line x1="137.23" y1="730.80" x2="137.23" y2="820.70" stroke="#555" stroke-width="0.55" stroke-dasharray="1.8 1.8"/>
<line x1="194.07" y1="730.80" x2="194.07" y2="820.70" stroke="#555" stroke-width="0.55" stroke-dasharray="1.8 1.8"/>
<rect x="120.10" y="737.70" width="40.50" height="11.70" fill="#ea5b5e" stroke="#7c2a2d" stroke-width="0.55" />
<rect x="170.70" y="737.70" width="57.00" height="11.70" fill="#ea5b5e" stroke="#7c2a2d" stroke-width="0.55" />
<rect x="123.40" y="753.80" width="37.20" height="11.70" fill="#ea5b5e" stroke="#7c2a2d" stroke-width="0.55" />
<rect x="170.70" y="753.80" width="35.00" height="11.70" fill="#ea5b5e" stroke="#7c2a2d" stroke-width="0.55" />
<rect x="123.40" y="770.10" width="37.20" height="11.70" fill="#ea5b5e" stroke="#7c2a2d" stroke-width="0.55" />
<rect x="170.70" y="770.10" width="35.00" height="11.70" fill="#ea5b5e" stroke="#7c2a2d" stroke-width="0.55" />
<rect x="123.40" y="786.50" width="37.20" height="11.70" fill="#ea5b5e" stroke="#7c2a2d" stroke-width="0.55" />
<rect x="170.70" y="786.50" width="34.00" height="11.70" fill="#ea5b5e" stroke="#7c2a2d" stroke-width="0.55" />
<rect x="123.40" y="802.60" width="37.20" height="11.70" fill="#ea5b5e" stroke="#7c2a2d" stroke-width="0.55" />
<rect x="170.70" y="802.60" width="34.00" height="11.70" fill="#ea5b5e" stroke="#7c2a2d" stroke-width="0.55" />
<line x1="160.60" y1="730.80" x2="160.60" y2="823.20" stroke="#6b6b6b" stroke-width="0.7" />
<line x1="170.70" y1="730.80" x2="170.70" y2="823.20" stroke="#6b6b6b" stroke-width="0.7" />
<line x1="70.70" y1="820.70" x2="160.60" y2="820.70" stroke="#6b6b6b" stroke-width="0.7" />
<line x1="170.70" y1="820.70" x2="260.60" y2="820.70" stroke="#6b6b6b" stroke-width="0.7" />
<line x1="160.60" y1="820.70" x2="160.60" y2="823.20" stroke="#6b6b6b" stroke-width="0.7" />
<line x1="170.70" y1="820.70" x2="170.70" y2="823.20" stroke="#6b6b6b" stroke-width="0.7" />
<text x="160.60" y="833.70" font-size="7.8" fill="#444" text-anchor="middle">0</text>
<text x="170.70" y="833.70" font-size="7.8" fill="#444" text-anchor="middle">0</text>
<line x1="142.62" y1="820.70" x2="142.62" y2="823.20" stroke="#6b6b6b" stroke-width="0.7" />
<line x1="188.68" y1="820.70" x2="188.68" y2="823.20" stroke="#6b6b6b" stroke-width="0.7" />
<text x="141.62" y="833.70" font-size="7.8" fill="#444" text-anchor="middle">−1</text>
<text x="188.68" y="833.70" font-size="7.8" fill="#444" text-anchor="middle">1</text>
<line x1="124.64" y1="820.70" x2="124.64" y2="823.20" stroke="#6b6b6b" stroke-width="0.7" />
<line x1="206.66" y1="820.70" x2="206.66" y2="823.20" stroke="#6b6b6b" stroke-width="0.7" />
<text x="123.64" y="833.70" font-size="7.8" fill="#444" text-anchor="middle">−2</text>
<text x="206.66" y="833.70" font-size="7.8" fill="#444" text-anchor="middle">2</text>
<line x1="106.66" y1="820.70" x2="106.66" y2="823.20" stroke="#6b6b6b" stroke-width="0.7" />
<line x1="224.64" y1="820.70" x2="224.64" y2="823.20" stroke="#6b6b6b" stroke-width="0.7" />
<text x="105.66" y="833.70" font-size="7.8" fill="#444" text-anchor="middle">−3</text>
<text x="224.64" y="833.70" font-size="7.8" fill="#444" text-anchor="middle">3</text>
<line x1="88.68" y1="820.70" x2="88.68" y2="823.20" stroke="#6b6b6b" stroke-width="0.7" />
<line x1="242.62" y1="820.70" x2="242.62" y2="823.20" stroke="#6b6b6b" stroke-width="0.7" />
<text x="87.68" y="833.70" font-size="7.8" fill="#444" text-anchor="middle">−4</text>
<text x="242.62" y="833.70" font-size="7.8" fill="#444" text-anchor="middle">4</text>
<line x1="70.70" y1="820.70" x2="70.70" y2="823.20" stroke="#6b6b6b" stroke-width="0.7" />
<line x1="260.60" y1="820.70" x2="260.60" y2="823.20" stroke="#6b6b6b" stroke-width="0.7" />
<text x="69.70" y="833.70" font-size="7.8" fill="#444" text-anchor="middle">−5</text>
<text x="260.60" y="833.70" font-size="7.8" fill="#444" text-anchor="middle">5</text>
<text x="115.80" y="847.00" font-size="8.2" fill="#333" text-anchor="middle" textLength="33.40" lengthAdjust="spacingAndGlyphs">−log<tspan font-size="5.4" dy="1.8">10</tspan><tspan dy="-1.8">(</tspan><tspan font-style="italic">P</tspan>)</text>
<text x="216.20" y="847.00" font-size="8.2" fill="#333" text-anchor="middle" textLength="33.40" lengthAdjust="spacingAndGlyphs">−log<tspan font-size="5.4" dy="1.8">10</tspan><tspan dy="-1.8">(</tspan><tspan font-style="italic">P</tspan>)</text>
<text x="117.00" y="745.75" font-size="7.9" fill="#222" text-anchor="end" textLength="44.70" lengthAdjust="spacingAndGlyphs">IGF II binding</text>
<text x="232.30" y="747.20" font-size="7.9" fill="#222" textLength="52.60" lengthAdjust="spacingAndGlyphs">Tubulin binding</text>
<text x="119.30" y="761.85" font-size="7.9" fill="#222" text-anchor="end" textLength="105.80" lengthAdjust="spacingAndGlyphs">Oxidoreductase (heme) activity</text>
<text x="209.50" y="762.70" font-size="7.9" fill="#222" textLength="109.10" lengthAdjust="spacingAndGlyphs">Oxidoreductase (metals) activity</text>
<text x="119.30" y="778.15" font-size="7.9" fill="#222" text-anchor="end" textLength="95.50" lengthAdjust="spacingAndGlyphs">Purine nucleobase transport</text>
<text x="209.50" y="779.20" font-size="7.9" fill="#222" textLength="65.70" lengthAdjust="spacingAndGlyphs">Ferroxidase activity</text>
<text x="119.30" y="794.55" font-size="7.9" fill="#222" text-anchor="end" textLength="119.60" lengthAdjust="spacingAndGlyphs">Retinoic acid 4-hydroxylase activity</text>
<text x="208.80" y="795.00" font-size="7.9" fill="#222" textLength="36.20" lengthAdjust="spacingAndGlyphs">Aβ binding</text>
<text x="119.30" y="810.65" font-size="7.9" fill="#222" text-anchor="end" textLength="92.50" lengthAdjust="spacingAndGlyphs">Ca<tspan font-size="4.6" dy="-3.7">2+</tspan><tspan dy="3.7" font-size="0.1">&#8203;</tspan> : Na<tspan font-size="4.6" dy="-3.7">+</tspan><tspan dy="3.7" font-size="0.1">&#8203;</tspan> antiporter activity</text>
<text x="208.80" y="810.60" font-size="7.9" fill="#222" textLength="81.70" lengthAdjust="spacingAndGlyphs">mRNA hydrolase activity</text>
<text x="537.60" y="714.50" font-size="8.4" fill="#b0892f" text-anchor="middle" textLength="66.00" lengthAdjust="spacingAndGlyphs">Endothelial cells</text>
<text x="459.10" y="726.30" font-size="8.5" fill="#555" textLength="61.10" lengthAdjust="spacingAndGlyphs">Downregulated</text>
<text x="560.60" y="726.30" font-size="8.5" fill="#555" textLength="48.50" lengthAdjust="spacingAndGlyphs">Upregulated</text>
<line x1="510.54" y1="733.90" x2="510.54" y2="819.70" stroke="#555" stroke-width="0.55" stroke-dasharray="1.8 1.8"/>
<line x1="564.26" y1="733.90" x2="564.26" y2="819.70" stroke="#555" stroke-width="0.55" stroke-dasharray="1.8 1.8"/>
<rect x="491.70" y="740.00" width="41.20" height="11.40" fill="#b08a30" stroke="#5f4a16" stroke-width="0.55" />
<rect x="541.90" y="740.00" width="37.10" height="11.40" fill="#b08a30" stroke="#5f4a16" stroke-width="0.55" />
<rect x="495.60" y="755.60" width="37.30" height="11.40" fill="#b08a30" stroke="#5f4a16" stroke-width="0.55" />
<rect x="541.90" y="755.60" width="34.00" height="11.40" fill="#b08a30" stroke="#5f4a16" stroke-width="0.55" />
<rect x="521.70" y="770.80" width="11.20" height="11.40" fill="#b08a30" stroke="#5f4a16" stroke-width="0.55" />
<rect x="541.90" y="770.80" width="32.50" height="11.40" fill="#b08a30" stroke="#5f4a16" stroke-width="0.55" />
<rect x="521.70" y="786.40" width="11.20" height="11.40" fill="#b08a30" stroke="#5f4a16" stroke-width="0.55" />
<rect x="541.90" y="786.40" width="32.50" height="11.40" fill="#b08a30" stroke="#5f4a16" stroke-width="0.55" />
<rect x="521.70" y="802.00" width="11.20" height="11.40" fill="#b08a30" stroke="#5f4a16" stroke-width="0.55" />
<rect x="541.90" y="802.00" width="31.50" height="11.40" fill="#b08a30" stroke="#5f4a16" stroke-width="0.55" />
<line x1="532.90" y1="733.90" x2="532.90" y2="822.20" stroke="#6b6b6b" stroke-width="0.7" />
<line x1="541.90" y1="733.90" x2="541.90" y2="822.20" stroke="#6b6b6b" stroke-width="0.7" />
<line x1="446.90" y1="819.70" x2="532.90" y2="819.70" stroke="#6b6b6b" stroke-width="0.7" />
<line x1="541.90" y1="819.70" x2="627.90" y2="819.70" stroke="#6b6b6b" stroke-width="0.7" />
<line x1="532.90" y1="819.70" x2="532.90" y2="822.20" stroke="#6b6b6b" stroke-width="0.7" />
<line x1="541.90" y1="819.70" x2="541.90" y2="822.20" stroke="#6b6b6b" stroke-width="0.7" />
<text x="532.90" y="831.70" font-size="7.8" fill="#444" text-anchor="middle">0</text>
<text x="541.90" y="831.70" font-size="7.8" fill="#444" text-anchor="middle">0</text>
<line x1="515.70" y1="819.70" x2="515.70" y2="822.20" stroke="#6b6b6b" stroke-width="0.7" />
<line x1="559.10" y1="819.70" x2="559.10" y2="822.20" stroke="#6b6b6b" stroke-width="0.7" />
<text x="514.70" y="831.70" font-size="7.8" fill="#444" text-anchor="middle">−1</text>
<text x="559.10" y="831.70" font-size="7.8" fill="#444" text-anchor="middle">1</text>
<line x1="498.50" y1="819.70" x2="498.50" y2="822.20" stroke="#6b6b6b" stroke-width="0.7" />
<line x1="576.30" y1="819.70" x2="576.30" y2="822.20" stroke="#6b6b6b" stroke-width="0.7" />
<text x="497.50" y="831.70" font-size="7.8" fill="#444" text-anchor="middle">−2</text>
<text x="576.30" y="831.70" font-size="7.8" fill="#444" text-anchor="middle">2</text>
<line x1="481.30" y1="819.70" x2="481.30" y2="822.20" stroke="#6b6b6b" stroke-width="0.7" />
<line x1="593.50" y1="819.70" x2="593.50" y2="822.20" stroke="#6b6b6b" stroke-width="0.7" />
<text x="480.30" y="831.70" font-size="7.8" fill="#444" text-anchor="middle">−3</text>
<text x="593.50" y="831.70" font-size="7.8" fill="#444" text-anchor="middle">3</text>
<line x1="464.10" y1="819.70" x2="464.10" y2="822.20" stroke="#6b6b6b" stroke-width="0.7" />
<line x1="610.70" y1="819.70" x2="610.70" y2="822.20" stroke="#6b6b6b" stroke-width="0.7" />
<text x="463.10" y="831.70" font-size="7.8" fill="#444" text-anchor="middle">−4</text>
<text x="610.70" y="831.70" font-size="7.8" fill="#444" text-anchor="middle">4</text>
<line x1="446.90" y1="819.70" x2="446.90" y2="822.20" stroke="#6b6b6b" stroke-width="0.7" />
<line x1="627.90" y1="819.70" x2="627.90" y2="822.20" stroke="#6b6b6b" stroke-width="0.7" />
<text x="445.90" y="831.70" font-size="7.8" fill="#444" text-anchor="middle">−5</text>
<text x="627.90" y="831.70" font-size="7.8" fill="#444" text-anchor="middle">5</text>
<text x="489.60" y="845.90" font-size="8.2" fill="#333" text-anchor="middle" textLength="33.40" lengthAdjust="spacingAndGlyphs">−log<tspan font-size="5.4" dy="1.8">10</tspan><tspan dy="-1.8">(</tspan><tspan font-style="italic">P</tspan>)</text>
<text x="585.20" y="845.90" font-size="8.2" fill="#333" text-anchor="middle" textLength="33.40" lengthAdjust="spacingAndGlyphs">−log<tspan font-size="5.4" dy="1.8">10</tspan><tspan dy="-1.8">(</tspan><tspan font-style="italic">P</tspan>)</text>
<text x="488.10" y="742.40" font-size="7.9" fill="#222" text-anchor="end" textLength="102.60" lengthAdjust="spacingAndGlyphs">Positive regulation of epithelia</text>
<text x="488.10" y="751.40" font-size="7.9" fill="#222" text-anchor="end" textLength="61.90" lengthAdjust="spacingAndGlyphs">cell differentiation</text>
<text x="583.60" y="747.80" font-size="7.9" fill="#222" textLength="61.30" lengthAdjust="spacingAndGlyphs">Symporter activity</text>
<text x="492.00" y="763.00" font-size="7.9" fill="#222" text-anchor="end" textLength="110.70" lengthAdjust="spacingAndGlyphs">Response to glucose stimulation</text>
<text x="580.30" y="763.40" font-size="7.9" fill="#222" textLength="85.60" lengthAdjust="spacingAndGlyphs">Omega peptidase activity</text>
<text x="517.20" y="778.30" font-size="7.9" fill="#222" text-anchor="end" textLength="117.30" lengthAdjust="spacingAndGlyphs">cis-Regulatory region DNA binding</text>
<text x="578.50" y="778.60" font-size="7.9" fill="#222" textLength="98.80" lengthAdjust="spacingAndGlyphs">Cation : bicarbonate symport</text>
<text x="518.00" y="793.90" font-size="7.9" fill="#222" text-anchor="end" textLength="107.10" lengthAdjust="spacingAndGlyphs">RNA polymerase II DNA binding</text>
<text x="577.70" y="794.20" font-size="7.9" fill="#222" textLength="107.30" lengthAdjust="spacingAndGlyphs">Neurexin family protein binding</text>
<text x="518.70" y="809.40" font-size="7.9" fill="#222" text-anchor="end" textLength="91.00" lengthAdjust="spacingAndGlyphs">Regulation of transcription</text>
<text x="577.20" y="809.80" font-size="7.9" fill="#222" textLength="72.60" lengthAdjust="spacingAndGlyphs"><tspan font-size="4.8">L</tspan>-glutamate transport</text>
</svg>
</body></html>
